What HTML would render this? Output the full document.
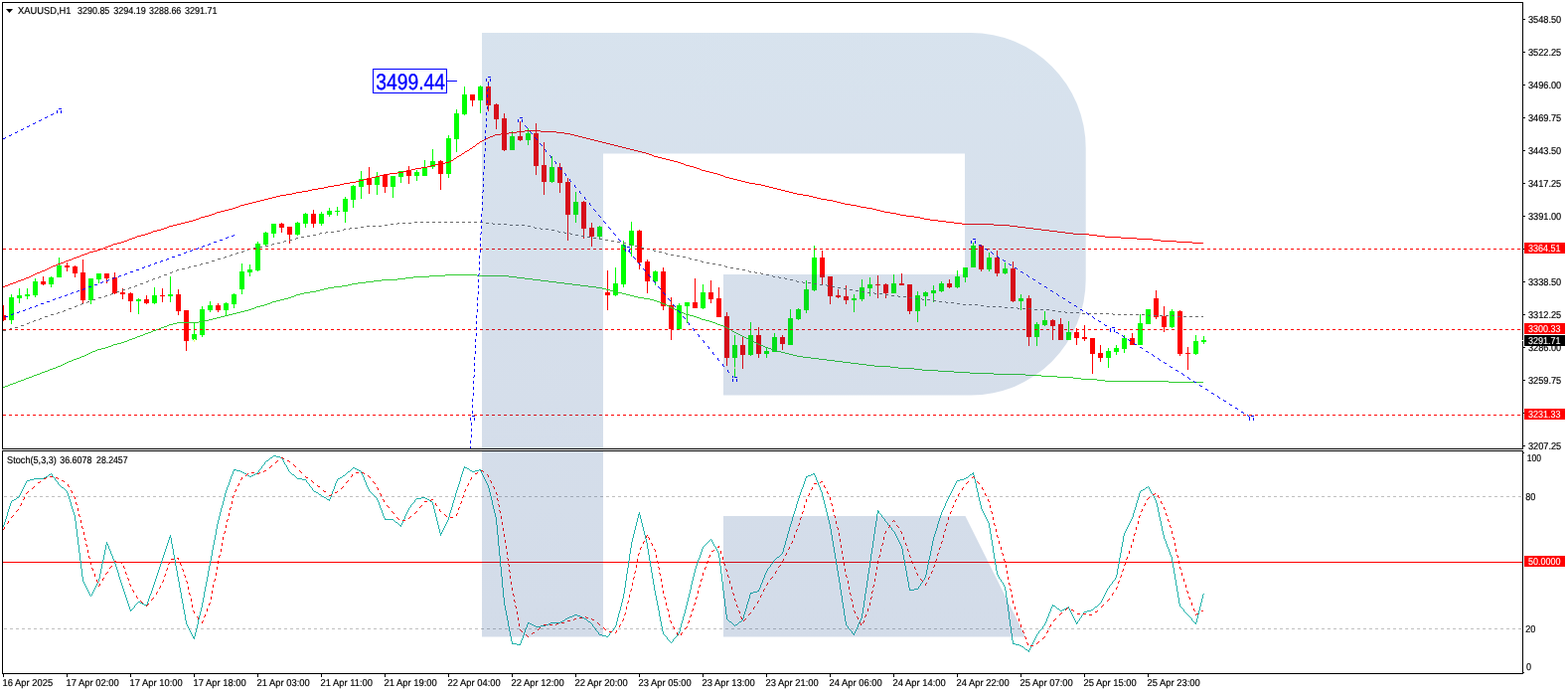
<!DOCTYPE html>
<html><head><meta charset="utf-8"><title>XAUUSD H1</title>
<style>
html,body{margin:0;padding:0;background:#fff;}
body{width:1578px;height:698px;overflow:hidden;}
svg{display:block;font-family:"Liberation Sans",sans-serif;}
text{white-space:pre;text-rendering:geometricPrecision;}
</style></head><body>
<svg width="1578" height="698" viewBox="0 0 1578 698">
<rect width="1578" height="698" fill="#fff"/>
<g shape-rendering="crispEdges">
<rect x="3" y="307" width="1" height="16" fill="#ff0000"/>
<rect x="3" y="317" width="3" height="5" fill="#ff0000"/>
<rect x="11" y="296" width="1" height="30" fill="#00ff00"/>
<rect x="9" y="299" width="5" height="23" fill="#00ff00"/>
<rect x="19" y="290" width="1" height="15" fill="#00ff00"/>
<rect x="17" y="297" width="5" height="3" fill="#00ff00"/>
<rect x="27" y="290" width="1" height="11" fill="#00ff00"/>
<rect x="25" y="296" width="5" height="2" fill="#00ff00"/>
<rect x="35" y="280" width="1" height="19" fill="#00ff00"/>
<rect x="33" y="283" width="5" height="14" fill="#00ff00"/>
<rect x="43" y="278" width="1" height="9" fill="#ff0000"/>
<rect x="41" y="283" width="5" height="3" fill="#ff0000"/>
<rect x="51" y="278" width="1" height="11" fill="#00ff00"/>
<rect x="49" y="279" width="5" height="7" fill="#00ff00"/>
<rect x="59" y="259" width="1" height="20" fill="#00ff00"/>
<rect x="57" y="267" width="5" height="12" fill="#00ff00"/>
<rect x="67" y="264" width="1" height="9" fill="#ff0000"/>
<rect x="65" y="267" width="5" height="2" fill="#ff0000"/>
<rect x="75" y="267" width="1" height="12" fill="#ff0000"/>
<rect x="73" y="268" width="5" height="7" fill="#ff0000"/>
<rect x="83" y="261" width="1" height="44" fill="#ff0000"/>
<rect x="81" y="274" width="5" height="28" fill="#ff0000"/>
<rect x="91" y="280" width="1" height="26" fill="#00ff00"/>
<rect x="89" y="280" width="5" height="22" fill="#00ff00"/>
<rect x="99" y="275" width="1" height="10" fill="#00ff00"/>
<rect x="97" y="275" width="5" height="6" fill="#00ff00"/>
<rect x="107" y="275" width="1" height="10" fill="#ff0000"/>
<rect x="105" y="275" width="5" height="5" fill="#ff0000"/>
<rect x="115" y="274" width="1" height="22" fill="#ff0000"/>
<rect x="113" y="279" width="5" height="16" fill="#ff0000"/>
<rect x="123" y="290" width="1" height="11" fill="#ff0000"/>
<rect x="121" y="294" width="5" height="2" fill="#ff0000"/>
<rect x="131" y="294" width="1" height="20" fill="#ff0000"/>
<rect x="129" y="295" width="5" height="8" fill="#ff0000"/>
<rect x="139" y="300" width="1" height="16" fill="#00ff00"/>
<rect x="137" y="301" width="5" height="2" fill="#00ff00"/>
<rect x="147" y="297" width="1" height="9" fill="#ff0000"/>
<rect x="145" y="301" width="5" height="4" fill="#ff0000"/>
<rect x="155" y="289" width="1" height="17" fill="#00ff00"/>
<rect x="153" y="297" width="5" height="8" fill="#00ff00"/>
<rect x="163" y="290" width="1" height="14" fill="#ff0000"/>
<rect x="161" y="297" width="5" height="1" fill="#ff0000"/>
<rect x="171" y="278" width="1" height="26" fill="#00ff00"/>
<rect x="169" y="296" width="5" height="2" fill="#00ff00"/>
<rect x="179" y="291" width="1" height="26" fill="#ff0000"/>
<rect x="177" y="296" width="5" height="17" fill="#ff0000"/>
<rect x="187" y="312" width="1" height="41" fill="#ff0000"/>
<rect x="185" y="312" width="5" height="31" fill="#ff0000"/>
<rect x="195" y="325" width="1" height="19" fill="#00ff00"/>
<rect x="193" y="336" width="5" height="6" fill="#00ff00"/>
<rect x="203" y="308" width="1" height="31" fill="#00ff00"/>
<rect x="201" y="311" width="5" height="26" fill="#00ff00"/>
<rect x="211" y="303" width="1" height="11" fill="#00ff00"/>
<rect x="209" y="307" width="5" height="5" fill="#00ff00"/>
<rect x="219" y="305" width="1" height="9" fill="#ff0000"/>
<rect x="217" y="307" width="5" height="5" fill="#ff0000"/>
<rect x="227" y="304" width="1" height="14" fill="#00ff00"/>
<rect x="225" y="305" width="5" height="7" fill="#00ff00"/>
<rect x="235" y="295" width="1" height="15" fill="#00ff00"/>
<rect x="233" y="296" width="5" height="10" fill="#00ff00"/>
<rect x="243" y="265" width="1" height="31" fill="#00ff00"/>
<rect x="241" y="273" width="5" height="18" fill="#00ff00"/>
<rect x="251" y="266" width="1" height="12" fill="#00ff00"/>
<rect x="249" y="271" width="5" height="3" fill="#00ff00"/>
<rect x="259" y="243" width="1" height="30" fill="#00ff00"/>
<rect x="257" y="245" width="5" height="27" fill="#00ff00"/>
<rect x="267" y="233" width="1" height="15" fill="#00ff00"/>
<rect x="265" y="234" width="5" height="12" fill="#00ff00"/>
<rect x="275" y="225" width="1" height="14" fill="#00ff00"/>
<rect x="273" y="225" width="5" height="10" fill="#00ff00"/>
<rect x="283" y="224" width="1" height="10" fill="#ff0000"/>
<rect x="281" y="225" width="5" height="4" fill="#ff0000"/>
<rect x="291" y="228" width="1" height="17" fill="#ff0000"/>
<rect x="289" y="228" width="5" height="8" fill="#ff0000"/>
<rect x="299" y="223" width="1" height="14" fill="#00ff00"/>
<rect x="297" y="224" width="5" height="12" fill="#00ff00"/>
<rect x="307" y="214" width="1" height="15" fill="#00ff00"/>
<rect x="305" y="215" width="5" height="10" fill="#00ff00"/>
<rect x="315" y="211" width="1" height="18" fill="#ff0000"/>
<rect x="313" y="215" width="5" height="10" fill="#ff0000"/>
<rect x="323" y="213" width="1" height="14" fill="#00ff00"/>
<rect x="321" y="215" width="5" height="10" fill="#00ff00"/>
<rect x="331" y="209" width="1" height="9" fill="#00ff00"/>
<rect x="329" y="212" width="5" height="4" fill="#00ff00"/>
<rect x="339" y="208" width="1" height="9" fill="#00ff00"/>
<rect x="337" y="212" width="5" height="1" fill="#00ff00"/>
<rect x="347" y="198" width="1" height="26" fill="#00ff00"/>
<rect x="345" y="200" width="5" height="13" fill="#00ff00"/>
<rect x="355" y="186" width="1" height="23" fill="#00ff00"/>
<rect x="353" y="187" width="5" height="14" fill="#00ff00"/>
<rect x="363" y="172" width="1" height="28" fill="#00ff00"/>
<rect x="361" y="180" width="5" height="8" fill="#00ff00"/>
<rect x="371" y="168" width="1" height="27" fill="#ff0000"/>
<rect x="369" y="179" width="5" height="7" fill="#ff0000"/>
<rect x="379" y="173" width="1" height="23" fill="#00ff00"/>
<rect x="377" y="178" width="5" height="8" fill="#00ff00"/>
<rect x="387" y="175" width="1" height="19" fill="#ff0000"/>
<rect x="385" y="176" width="5" height="12" fill="#ff0000"/>
<rect x="395" y="177" width="1" height="22" fill="#00ff00"/>
<rect x="393" y="177" width="5" height="11" fill="#00ff00"/>
<rect x="403" y="172" width="1" height="12" fill="#00ff00"/>
<rect x="401" y="172" width="5" height="6" fill="#00ff00"/>
<rect x="411" y="167" width="1" height="18" fill="#ff0000"/>
<rect x="409" y="171" width="5" height="6" fill="#ff0000"/>
<rect x="419" y="171" width="1" height="11" fill="#00ff00"/>
<rect x="417" y="173" width="5" height="4" fill="#00ff00"/>
<rect x="427" y="161" width="1" height="16" fill="#00ff00"/>
<rect x="425" y="168" width="5" height="9" fill="#00ff00"/>
<rect x="435" y="150" width="1" height="20" fill="#00ff00"/>
<rect x="433" y="162" width="5" height="6" fill="#00ff00"/>
<rect x="443" y="161" width="1" height="30" fill="#ff0000"/>
<rect x="441" y="162" width="5" height="13" fill="#ff0000"/>
<rect x="451" y="136" width="1" height="43" fill="#00ff00"/>
<rect x="449" y="139" width="5" height="36" fill="#00ff00"/>
<rect x="459" y="110" width="1" height="43" fill="#00ff00"/>
<rect x="457" y="114" width="5" height="26" fill="#00ff00"/>
<rect x="467" y="87" width="1" height="29" fill="#00ff00"/>
<rect x="465" y="95" width="5" height="20" fill="#00ff00"/>
<rect x="475" y="95" width="1" height="12" fill="#ff0000"/>
<rect x="473" y="95" width="5" height="6" fill="#ff0000"/>
<rect x="483" y="86" width="1" height="28" fill="#00ff00"/>
<rect x="481" y="87" width="5" height="14" fill="#00ff00"/>
<rect x="491" y="82" width="1" height="30" fill="#ff0000"/>
<rect x="489" y="87" width="5" height="19" fill="#ff0000"/>
<rect x="499" y="104" width="1" height="26" fill="#ff0000"/>
<rect x="497" y="105" width="5" height="15" fill="#ff0000"/>
<rect x="507" y="114" width="1" height="38" fill="#ff0000"/>
<rect x="505" y="119" width="5" height="32" fill="#ff0000"/>
<rect x="515" y="132" width="1" height="19" fill="#00ff00"/>
<rect x="513" y="137" width="5" height="14" fill="#00ff00"/>
<rect x="523" y="122" width="1" height="20" fill="#ff0000"/>
<rect x="521" y="137" width="5" height="4" fill="#ff0000"/>
<rect x="531" y="129" width="1" height="17" fill="#00ff00"/>
<rect x="529" y="134" width="5" height="7" fill="#00ff00"/>
<rect x="539" y="124" width="1" height="52" fill="#ff0000"/>
<rect x="537" y="134" width="5" height="33" fill="#ff0000"/>
<rect x="547" y="143" width="1" height="53" fill="#ff0000"/>
<rect x="545" y="166" width="5" height="17" fill="#ff0000"/>
<rect x="555" y="157" width="1" height="27" fill="#00ff00"/>
<rect x="553" y="168" width="5" height="15" fill="#00ff00"/>
<rect x="563" y="164" width="1" height="30" fill="#ff0000"/>
<rect x="561" y="168" width="5" height="16" fill="#ff0000"/>
<rect x="571" y="179" width="1" height="63" fill="#ff0000"/>
<rect x="569" y="183" width="5" height="33" fill="#ff0000"/>
<rect x="579" y="193" width="1" height="31" fill="#00ff00"/>
<rect x="577" y="203" width="5" height="13" fill="#00ff00"/>
<rect x="587" y="202" width="1" height="38" fill="#ff0000"/>
<rect x="585" y="203" width="5" height="27" fill="#ff0000"/>
<rect x="595" y="224" width="1" height="24" fill="#ff0000"/>
<rect x="593" y="229" width="5" height="9" fill="#ff0000"/>
<rect x="603" y="227" width="1" height="14" fill="#00ff00"/>
<rect x="601" y="228" width="5" height="10" fill="#00ff00"/>
<rect x="611" y="272" width="1" height="40" fill="#ff0000"/>
<rect x="609" y="294" width="5" height="3" fill="#ff0000"/>
<rect x="619" y="269" width="1" height="29" fill="#00ff00"/>
<rect x="617" y="285" width="5" height="12" fill="#00ff00"/>
<rect x="627" y="242" width="1" height="47" fill="#00ff00"/>
<rect x="625" y="246" width="5" height="40" fill="#00ff00"/>
<rect x="635" y="223" width="1" height="35" fill="#00ff00"/>
<rect x="633" y="232" width="5" height="15" fill="#00ff00"/>
<rect x="643" y="231" width="1" height="40" fill="#ff0000"/>
<rect x="641" y="232" width="5" height="32" fill="#ff0000"/>
<rect x="651" y="261" width="1" height="34" fill="#ff0000"/>
<rect x="649" y="263" width="5" height="20" fill="#ff0000"/>
<rect x="659" y="272" width="1" height="15" fill="#00ff00"/>
<rect x="657" y="273" width="5" height="10" fill="#00ff00"/>
<rect x="667" y="269" width="1" height="43" fill="#ff0000"/>
<rect x="665" y="273" width="5" height="35" fill="#ff0000"/>
<rect x="675" y="299" width="1" height="43" fill="#ff0000"/>
<rect x="673" y="307" width="5" height="24" fill="#ff0000"/>
<rect x="683" y="305" width="1" height="26" fill="#00ff00"/>
<rect x="681" y="307" width="5" height="24" fill="#00ff00"/>
<rect x="691" y="304" width="1" height="21" fill="#00ff00"/>
<rect x="689" y="304" width="5" height="4" fill="#00ff00"/>
<rect x="699" y="280" width="1" height="30" fill="#ff0000"/>
<rect x="697" y="304" width="5" height="6" fill="#ff0000"/>
<rect x="707" y="286" width="1" height="25" fill="#00ff00"/>
<rect x="705" y="294" width="5" height="16" fill="#00ff00"/>
<rect x="715" y="282" width="1" height="23" fill="#ff0000"/>
<rect x="713" y="294" width="5" height="7" fill="#ff0000"/>
<rect x="723" y="289" width="1" height="30" fill="#ff0000"/>
<rect x="721" y="300" width="5" height="19" fill="#ff0000"/>
<rect x="731" y="314" width="1" height="54" fill="#ff0000"/>
<rect x="729" y="318" width="5" height="42" fill="#ff0000"/>
<rect x="739" y="337" width="1" height="42" fill="#00ff00"/>
<rect x="737" y="347" width="5" height="13" fill="#00ff00"/>
<rect x="747" y="338" width="1" height="33" fill="#ff0000"/>
<rect x="745" y="347" width="5" height="10" fill="#ff0000"/>
<rect x="755" y="324" width="1" height="34" fill="#00ff00"/>
<rect x="753" y="337" width="5" height="20" fill="#00ff00"/>
<rect x="763" y="329" width="1" height="31" fill="#ff0000"/>
<rect x="761" y="337" width="5" height="19" fill="#ff0000"/>
<rect x="771" y="350" width="1" height="10" fill="#00ff00"/>
<rect x="769" y="353" width="5" height="3" fill="#00ff00"/>
<rect x="779" y="335" width="1" height="19" fill="#00ff00"/>
<rect x="777" y="339" width="5" height="15" fill="#00ff00"/>
<rect x="787" y="337" width="1" height="15" fill="#ff0000"/>
<rect x="785" y="339" width="5" height="7" fill="#ff0000"/>
<rect x="795" y="311" width="1" height="36" fill="#00ff00"/>
<rect x="793" y="320" width="5" height="27" fill="#00ff00"/>
<rect x="803" y="310" width="1" height="12" fill="#00ff00"/>
<rect x="801" y="311" width="5" height="10" fill="#00ff00"/>
<rect x="811" y="282" width="1" height="33" fill="#00ff00"/>
<rect x="809" y="291" width="5" height="21" fill="#00ff00"/>
<rect x="819" y="247" width="1" height="46" fill="#00ff00"/>
<rect x="817" y="259" width="5" height="33" fill="#00ff00"/>
<rect x="827" y="252" width="1" height="35" fill="#ff0000"/>
<rect x="825" y="259" width="5" height="20" fill="#ff0000"/>
<rect x="835" y="278" width="1" height="28" fill="#ff0000"/>
<rect x="833" y="278" width="5" height="20" fill="#ff0000"/>
<rect x="843" y="291" width="1" height="9" fill="#ff0000"/>
<rect x="841" y="297" width="5" height="2" fill="#ff0000"/>
<rect x="851" y="287" width="1" height="19" fill="#ff0000"/>
<rect x="849" y="298" width="5" height="4" fill="#ff0000"/>
<rect x="859" y="296" width="1" height="18" fill="#00ff00"/>
<rect x="857" y="300" width="5" height="2" fill="#00ff00"/>
<rect x="867" y="281" width="1" height="22" fill="#00ff00"/>
<rect x="865" y="289" width="5" height="12" fill="#00ff00"/>
<rect x="875" y="279" width="1" height="19" fill="#00ff00"/>
<rect x="873" y="286" width="5" height="4" fill="#00ff00"/>
<rect x="883" y="277" width="1" height="23" fill="#ff0000"/>
<rect x="881" y="286" width="5" height="1" fill="#ff0000"/>
<rect x="891" y="285" width="1" height="15" fill="#ff0000"/>
<rect x="889" y="286" width="5" height="9" fill="#ff0000"/>
<rect x="899" y="276" width="1" height="19" fill="#00ff00"/>
<rect x="897" y="285" width="5" height="10" fill="#00ff00"/>
<rect x="907" y="275" width="1" height="12" fill="#ff0000"/>
<rect x="905" y="285" width="5" height="2" fill="#ff0000"/>
<rect x="915" y="286" width="1" height="30" fill="#ff0000"/>
<rect x="913" y="286" width="5" height="27" fill="#ff0000"/>
<rect x="923" y="293" width="1" height="31" fill="#00ff00"/>
<rect x="921" y="297" width="5" height="16" fill="#00ff00"/>
<rect x="931" y="293" width="1" height="15" fill="#00ff00"/>
<rect x="929" y="294" width="5" height="4" fill="#00ff00"/>
<rect x="939" y="287" width="1" height="17" fill="#00ff00"/>
<rect x="937" y="292" width="5" height="3" fill="#00ff00"/>
<rect x="947" y="283" width="1" height="11" fill="#00ff00"/>
<rect x="945" y="285" width="5" height="8" fill="#00ff00"/>
<rect x="955" y="281" width="1" height="9" fill="#ff0000"/>
<rect x="953" y="285" width="5" height="4" fill="#ff0000"/>
<rect x="963" y="272" width="1" height="18" fill="#00ff00"/>
<rect x="961" y="278" width="5" height="11" fill="#00ff00"/>
<rect x="971" y="269" width="1" height="15" fill="#00ff00"/>
<rect x="969" y="269" width="5" height="10" fill="#00ff00"/>
<rect x="979" y="244" width="1" height="25" fill="#00ff00"/>
<rect x="977" y="247" width="5" height="22" fill="#00ff00"/>
<rect x="987" y="246" width="1" height="27" fill="#ff0000"/>
<rect x="985" y="247" width="5" height="24" fill="#ff0000"/>
<rect x="995" y="254" width="1" height="19" fill="#00ff00"/>
<rect x="993" y="259" width="5" height="12" fill="#00ff00"/>
<rect x="1003" y="252" width="1" height="26" fill="#ff0000"/>
<rect x="1001" y="259" width="5" height="16" fill="#ff0000"/>
<rect x="1011" y="264" width="1" height="12" fill="#00ff00"/>
<rect x="1009" y="270" width="5" height="5" fill="#00ff00"/>
<rect x="1019" y="263" width="1" height="41" fill="#ff0000"/>
<rect x="1017" y="270" width="5" height="33" fill="#ff0000"/>
<rect x="1027" y="296" width="1" height="16" fill="#00ff00"/>
<rect x="1025" y="300" width="5" height="3" fill="#00ff00"/>
<rect x="1035" y="297" width="1" height="51" fill="#ff0000"/>
<rect x="1033" y="300" width="5" height="39" fill="#ff0000"/>
<rect x="1043" y="324" width="1" height="24" fill="#00ff00"/>
<rect x="1041" y="326" width="5" height="13" fill="#00ff00"/>
<rect x="1051" y="313" width="1" height="15" fill="#00ff00"/>
<rect x="1049" y="322" width="5" height="5" fill="#00ff00"/>
<rect x="1059" y="321" width="1" height="21" fill="#ff0000"/>
<rect x="1057" y="322" width="5" height="6" fill="#ff0000"/>
<rect x="1067" y="320" width="1" height="22" fill="#ff0000"/>
<rect x="1065" y="326" width="5" height="16" fill="#ff0000"/>
<rect x="1075" y="323" width="1" height="19" fill="#00ff00"/>
<rect x="1073" y="334" width="5" height="8" fill="#00ff00"/>
<rect x="1083" y="330" width="1" height="17" fill="#ff0000"/>
<rect x="1081" y="334" width="5" height="6" fill="#ff0000"/>
<rect x="1091" y="327" width="1" height="16" fill="#ff0000"/>
<rect x="1089" y="339" width="5" height="2" fill="#ff0000"/>
<rect x="1099" y="340" width="1" height="36" fill="#ff0000"/>
<rect x="1097" y="340" width="5" height="16" fill="#ff0000"/>
<rect x="1107" y="347" width="1" height="17" fill="#ff0000"/>
<rect x="1105" y="355" width="5" height="5" fill="#ff0000"/>
<rect x="1115" y="350" width="1" height="20" fill="#00ff00"/>
<rect x="1113" y="353" width="5" height="7" fill="#00ff00"/>
<rect x="1123" y="347" width="1" height="10" fill="#00ff00"/>
<rect x="1121" y="350" width="5" height="4" fill="#00ff00"/>
<rect x="1131" y="337" width="1" height="18" fill="#00ff00"/>
<rect x="1129" y="340" width="5" height="11" fill="#00ff00"/>
<rect x="1139" y="335" width="1" height="12" fill="#ff0000"/>
<rect x="1137" y="340" width="5" height="7" fill="#ff0000"/>
<rect x="1147" y="316" width="1" height="31" fill="#00ff00"/>
<rect x="1145" y="325" width="5" height="22" fill="#00ff00"/>
<rect x="1155" y="311" width="1" height="15" fill="#00ff00"/>
<rect x="1153" y="311" width="5" height="15" fill="#00ff00"/>
<rect x="1163" y="292" width="1" height="29" fill="#ff0000"/>
<rect x="1161" y="300" width="5" height="19" fill="#ff0000"/>
<rect x="1171" y="308" width="1" height="26" fill="#ff0000"/>
<rect x="1169" y="318" width="5" height="11" fill="#ff0000"/>
<rect x="1179" y="311" width="1" height="19" fill="#00ff00"/>
<rect x="1177" y="313" width="5" height="16" fill="#00ff00"/>
<rect x="1187" y="312" width="1" height="46" fill="#ff0000"/>
<rect x="1185" y="313" width="5" height="43" fill="#ff0000"/>
<rect x="1195" y="349" width="1" height="23" fill="#ff0000"/>
<rect x="1193" y="355" width="5" height="1" fill="#ff0000"/>
<rect x="1203" y="337" width="1" height="20" fill="#00ff00"/>
<rect x="1201" y="343" width="5" height="13" fill="#00ff00"/>
<rect x="1211" y="338" width="1" height="8" fill="#00ff00"/>
<rect x="1209" y="342" width="5" height="2" fill="#00ff00"/>
</g>
<g shape-rendering="crispEdges">
<rect x="193" y="341" width="1" height="1" fill="#f4ffb0"/>
<rect x="195" y="341" width="1" height="1" fill="#c8ffff"/>
<rect x="196" y="341" width="1" height="1" fill="#e8ff90"/>
<rect x="193" y="342" width="1" height="1" fill="#c0ffff"/>
<rect x="194" y="342" width="1" height="1" fill="#ffffff"/>
<rect x="195" y="342" width="1" height="1" fill="#e0ff60"/>
<rect x="195" y="343" width="1" height="1" fill="#e8ff80"/>
<rect x="739" y="369" width="1" height="1" fill="#c8f080"/>
<rect x="739" y="370" width="1" height="1" fill="#d8f090"/>
</g>
<g shape-rendering="crispEdges">
<path d="M448 276h32v1h-32zM432 277h16v1h-16zM480 277h32v1h-32zM416 278h16v1h-16zM512 278h8v1h-8zM408 279h8v1h-8zM520 279h8v1h-8zM400 280h8v1h-8zM528 280h8v1h-8zM384 281h16v1h-16zM536 281h8v1h-8zM376 282h8v1h-8zM544 282h8v1h-8zM368 283h8v1h-8zM552 283h8v1h-8zM360 284h8v1h-8zM560 284h8v1h-8zM354 285h6v1h-6zM568 285h8v1h-8zM350 286h4v1h-4zM576 286h8v1h-8zM344 287h6v1h-6zM584 287h8v1h-8zM336 288h8v1h-8zM592 288h8v1h-8zM330 289h6v1h-6zM600 289h6v1h-6zM326 290h4v1h-4zM606 290h4v1h-4zM322 291h4v1h-4zM610 291h4v1h-4zM318 292h4v1h-4zM614 292h4v1h-4zM312 293h6v1h-6zM618 293h4v1h-4zM306 294h6v1h-6zM622 294h4v1h-4zM302 295h4v1h-4zM626 295h4v1h-4zM298 296h4v1h-4zM630 296h4v1h-4zM296 297h2v1h-2zM634 297h4v1h-4zM293 298h3v1h-3zM638 298h4v1h-4zM290 299h3v1h-3zM642 299h6v1h-6zM286 300h4v1h-4zM648 300h6v1h-6zM282 301h4v1h-4zM654 301h4v1h-4zM278 302h4v1h-4zM658 302h3v1h-3zM274 303h4v1h-4zM661 303h3v1h-3zM272 304h2v1h-2zM664 304h2v1h-2zM269 305h3v1h-3zM666 305h3v1h-3zM266 306h3v1h-3zM669 306h2v1h-2zM262 307h4v1h-4zM671 307h2v1h-2zM258 308h4v1h-4zM673 308h2v1h-2zM256 309h2v1h-2zM675 309h2v1h-2zM253 310h3v1h-3zM677 310h2v1h-2zM250 311h3v1h-3zM679 311h2v1h-2zM246 312h4v1h-4zM681 312h2v1h-2zM242 313h4v1h-4zM683 313h2v1h-2zM238 314h4v1h-4zM685 314h3v1h-3zM234 315h4v1h-4zM688 315h2v1h-2zM230 316h4v1h-4zM690 316h4v1h-4zM226 317h4v1h-4zM694 317h4v1h-4zM222 318h4v1h-4zM698 318h3v1h-3zM218 319h4v1h-4zM701 319h3v1h-3zM214 320h4v1h-4zM704 320h2v1h-2zM210 321h4v1h-4zM706 321h4v1h-4zM206 322h4v1h-4zM710 322h4v1h-4zM200 323h6v1h-6zM714 323h3v1h-3zM178 324h22v1h-22zM717 324h3v1h-3zM174 325h4v1h-4zM720 325h2v1h-2zM170 326h4v1h-4zM722 326h3v1h-3zM168 327h2v1h-2zM725 327h3v1h-3zM165 328h3v1h-3zM728 328h2v1h-2zM162 329h3v1h-3zM730 329h2v1h-2zM160 330h2v1h-2zM732 330h2v1h-2zM157 331h3v1h-3zM734 331h2v1h-2zM154 332h3v1h-3zM152 333h2v1h-2zM737 333h2v1h-2zM149 334h3v1h-3zM739 334h2v1h-2zM146 335h3v1h-3zM741 335h2v1h-2zM144 336h2v1h-2zM743 336h2v1h-2zM141 337h3v1h-3zM745 337h2v1h-2zM138 338h3v1h-3zM747 338h2v1h-2zM136 339h2v1h-2zM749 339h2v1h-2zM133 340h3v1h-3zM751 340h2v1h-2zM130 341h3v1h-3zM753 341h2v1h-2zM128 342h2v1h-2zM755 342h2v1h-2zM125 343h3v1h-3zM757 343h2v1h-2zM122 344h3v1h-3zM759 344h2v1h-2zM118 345h4v1h-4zM761 345h2v1h-2zM114 346h4v1h-4zM763 346h2v1h-2zM112 347h2v1h-2zM765 347h3v1h-3zM109 348h3v1h-3zM768 348h2v1h-2zM106 349h3v1h-3zM770 349h3v1h-3zM102 350h4v1h-4zM773 350h3v1h-3zM98 351h4v1h-4zM776 351h2v1h-2zM96 352h2v1h-2zM778 352h4v1h-4zM93 353h3v1h-3zM782 353h4v1h-4zM91 354h2v1h-2zM786 354h4v1h-4zM89 355h2v1h-2zM790 355h4v1h-4zM87 356h2v1h-2zM794 356h4v1h-4zM85 357h2v1h-2zM798 357h4v1h-4zM82 358h3v1h-3zM802 358h6v1h-6zM80 359h2v1h-2zM808 359h8v1h-8zM77 360h3v1h-3zM816 360h8v1h-8zM74 361h3v1h-3zM824 361h8v1h-8zM72 362h2v1h-2zM832 362h8v1h-8zM69 363h3v1h-3zM840 363h8v1h-8zM67 364h2v1h-2zM848 364h8v1h-8zM65 365h2v1h-2zM856 365h8v1h-8zM63 366h2v1h-2zM864 366h8v1h-8zM61 367h2v1h-2zM872 367h8v1h-8zM58 368h3v1h-3zM880 368h16v1h-16zM56 369h2v1h-2zM896 369h8v1h-8zM53 370h3v1h-3zM904 370h16v1h-16zM50 371h3v1h-3zM920 371h8v1h-8zM48 372h2v1h-2zM928 372h16v1h-16zM45 373h3v1h-3zM944 373h16v1h-16zM42 374h3v1h-3zM960 374h16v1h-16zM40 375h2v1h-2zM976 375h24v1h-24zM37 376h3v1h-3zM1000 376h32v1h-32zM34 377h3v1h-3zM1032 377h16v1h-16zM32 378h2v1h-2zM1048 378h16v1h-16zM29 379h3v1h-3zM1064 379h16v1h-16zM26 380h3v1h-3zM1080 380h8v1h-8zM24 381h2v1h-2zM1088 381h16v1h-16zM21 382h3v1h-3zM1104 382h8v1h-8zM18 383h3v1h-3zM1112 383h64v1h-64zM16 384h2v1h-2zM1176 384h35v1h-35zM13 385h3v1h-3zM10 386h3v1h-3zM8 387h2v1h-2zM5 388h3v1h-3zM3 389h2v1h-2zM736 332v1h1v-1z" fill="#32cd32"/>
<path d="M417 223h3v1h-3zM423 223h3v1h-3zM429 223h3v1h-3zM435 223h3v1h-3zM441 223h3v1h-3zM447 223h3v1h-3zM453 223h3v1h-3zM459 223h3v1h-3zM465 223h3v1h-3zM471 223h3v1h-3zM477 223h3v1h-3zM483 223h3v1h-3zM400 224h2v1h-2zM405 224h3v1h-3zM411 224h3v1h-3zM489 224h3v1h-3zM393 225h3v1h-3zM496 225h2v1h-2zM501 225h3v1h-3zM507 225h3v1h-3zM387 226h3v1h-3zM513 226h3v1h-3zM519 226h3v1h-3zM525 226h3v1h-3zM369 227h3v1h-3zM375 227h3v1h-3zM381 227h3v1h-3zM531 227h3v1h-3zM363 228h3v1h-3zM352 229h2v1h-2zM357 229h3v1h-3zM538 229h2v1h-2zM346 230h2v1h-2zM544 230h2v1h-2zM549 230h3v1h-3zM555 231h3v1h-3zM339 232h3v1h-3zM328 233h2v1h-2zM333 233h3v1h-3zM562 233h2v1h-2zM322 234h2v1h-2zM568 234h2v1h-2zM574 235h2v1h-2zM315 236h3v1h-3zM579 236h3v1h-3zM309 237h3v1h-3zM585 237h3v1h-3zM303 238h3v1h-3zM591 238h3v1h-3zM298 239h2v1h-2zM597 239h3v1h-3zM603 240h3v1h-3zM291 241h3v1h-3zM609 241h3v1h-3zM286 242h2v1h-2zM615 242h3v1h-3zM621 243h3v1h-3zM279 244h3v1h-3zM627 244h3v1h-3zM274 245h2v1h-2zM634 246h2v1h-2zM267 247h3v1h-3zM639 247h3v1h-3zM261 248h3v1h-3zM255 249h3v1h-3zM646 249h2v1h-2zM250 250h2v1h-2zM651 250h3v1h-3zM658 252h2v1h-2zM243 253h2v1h-2zM663 253h3v1h-3zM238 254h2v1h-2zM670 255h2v1h-2zM232 256h2v1h-2zM675 256h3v1h-3zM681 257h3v1h-3zM226 258h2v1h-2zM687 258h3v1h-3zM219 260h3v1h-3zM694 260h2v1h-2zM699 261h3v1h-3zM213 262h3v1h-3zM706 263h2v1h-2zM207 264h3v1h-3zM711 264h3v1h-3zM202 265h2v1h-2zM717 265h3v1h-3zM723 266h3v1h-3zM195 267h3v1h-3zM190 268h2v1h-2zM730 268h2v1h-2zM735 269h3v1h-3zM183 270h3v1h-3zM741 270h3v1h-3zM178 271h2v1h-2zM747 271h3v1h-3zM754 273h2v1h-2zM171 274h2v1h-2zM760 274h2v1h-2zM766 275h2v1h-2zM165 276h3v1h-3zM771 276h3v1h-3zM160 278h2v1h-2zM778 278h2v1h-2zM784 279h2v1h-2zM154 280h2v1h-2zM790 280h2v1h-2zM795 281h3v1h-3zM147 283h2v1h-2zM802 283h2v1h-2zM808 284h2v1h-2zM813 284h3v1h-3zM141 285h3v1h-3zM819 285h3v1h-3zM825 286h3v1h-3zM136 287h2v1h-2zM832 287h2v1h-2zM838 288h2v1h-2zM130 289h2v1h-2zM843 289h3v1h-3zM849 290h3v1h-3zM123 291h3v1h-3zM855 291h3v1h-3zM861 292h3v1h-3zM117 293h3v1h-3zM867 293h3v1h-3zM873 294h3v1h-3zM112 295h2v1h-2zM880 295h2v1h-2zM885 295h3v1h-3zM891 296h3v1h-3zM106 297h2v1h-2zM897 297h3v1h-3zM904 298h2v1h-2zM909 298h3v1h-3zM99 299h3v1h-3zM915 299h3v1h-3zM921 300h3v1h-3zM93 301h3v1h-3zM928 301h2v1h-2zM933 301h3v1h-3zM939 302h3v1h-3zM88 303h2v1h-2zM945 303h3v1h-3zM952 304h2v1h-2zM957 304h3v1h-3zM82 305h2v1h-2zM963 305h3v1h-3zM969 306h3v1h-3zM975 306h3v1h-3zM981 306h3v1h-3zM987 307h3v1h-3zM75 308h2v1h-2zM993 308h3v1h-3zM999 308h3v1h-3zM1005 308h3v1h-3zM1011 309h3v1h-3zM1017 309h3v1h-3zM69 310h3v1h-3zM1024 310h2v1h-2zM1029 310h3v1h-3zM1035 310h3v1h-3zM1041 311h3v1h-3zM1047 311h3v1h-3zM1053 311h3v1h-3zM64 312h2v1h-2zM1059 312h3v1h-3zM1065 313h3v1h-3zM58 314h2v1h-2zM1072 314h2v1h-2zM1077 314h3v1h-3zM1083 314h3v1h-3zM1089 315h3v1h-3zM1095 315h3v1h-3zM1101 315h3v1h-3zM1107 315h3v1h-3zM1113 315h3v1h-3zM51 316h3v1h-3zM1120 316h2v1h-2zM1125 316h3v1h-3zM1131 316h3v1h-3zM1137 316h3v1h-3zM1143 316h3v1h-3zM1149 316h3v1h-3zM1155 317h3v1h-3zM1161 317h3v1h-3zM1167 317h3v1h-3zM1173 317h3v1h-3zM1179 317h3v1h-3zM45 318h3v1h-3zM1185 318h3v1h-3zM1191 318h3v1h-3zM1197 318h3v1h-3zM1203 318h3v1h-3zM1209 318h2v1h-2zM40 320h2v1h-2zM34 322h2v1h-2zM27 325h2v1h-2zM21 327h3v1h-3zM15 329h3v1h-3zM10 330h2v1h-2zM3 332h3v1h-3zM9 331v1h1v-1zM29 324v1h1v-1zM33 323v1h1v-1zM39 321v1h1v-1zM57 315v1h1v-1zM63 313v1h1v-1zM77 307v1h1v-1zM81 306v1h1v-1zM87 304v1h1v-1zM105 298v1h1v-1zM111 296v1h1v-1zM129 290v1h1v-1zM135 288v1h1v-1zM149 282v1h1v-1zM153 281v1h1v-1zM159 279v1h1v-1zM173 273v1h1v-1zM177 272v1h1v-1zM189 269v1h1v-1zM201 266v1h1v-1zM225 259v1h1v-1zM231 257v1h1v-1zM237 255v1h1v-1zM245 252v1h1v-1zM249 251v1h1v-1zM273 246v1h1v-1zM285 243v1h1v-1zM297 240v1h1v-1zM321 235v1h1v-1zM327 234v1h1v-1zM345 231v1h1v-1zM351 230v1h1v-1zM399 225v1h1v-1zM495 224v1h1v-1zM537 228v1h1v-1zM543 229v1h1v-1zM561 232v1h1v-1zM567 233v1h1v-1zM573 234v1h1v-1zM633 245v1h1v-1zM645 248v1h1v-1zM657 251v1h1v-1zM669 254v1h1v-1zM693 259v1h1v-1zM705 262v1h1v-1zM729 267v1h1v-1zM753 272v1h1v-1zM759 273v1h1v-1zM765 274v1h1v-1zM777 277v1h1v-1zM783 278v1h1v-1zM789 279v1h1v-1zM801 282v1h1v-1zM807 283v1h1v-1zM831 286v1h1v-1zM837 287v1h1v-1zM879 294v1h1v-1zM903 297v1h1v-1zM927 300v1h1v-1zM951 303v1h1v-1zM1023 309v1h1v-1zM1071 313v1h1v-1zM1119 315v1h1v-1z" fill="#696969"/>
<path d="M528 131h16v1h-16zM520 132h8v1h-8zM544 132h16v1h-16zM512 133h8v1h-8zM560 133h8v1h-8zM504 134h8v1h-8zM568 134h6v1h-6zM498 135h6v1h-6zM574 135h4v1h-4zM496 136h2v1h-2zM578 136h4v1h-4zM493 137h3v1h-3zM582 137h4v1h-4zM491 138h2v1h-2zM586 138h4v1h-4zM489 139h2v1h-2zM590 139h4v1h-4zM487 140h2v1h-2zM594 140h4v1h-4zM485 141h2v1h-2zM598 141h4v1h-4zM483 142h2v1h-2zM602 142h4v1h-4zM606 143h4v1h-4zM480 144h2v1h-2zM610 144h4v1h-4zM614 145h4v1h-4zM618 146h4v1h-4zM476 147h2v1h-2zM622 147h4v1h-4zM626 148h4v1h-4zM473 149h2v1h-2zM630 149h4v1h-4zM634 150h4v1h-4zM470 151h2v1h-2zM638 151h4v1h-4zM468 152h2v1h-2zM642 152h4v1h-4zM646 153h4v1h-4zM465 154h2v1h-2zM650 154h3v1h-3zM653 155h3v1h-3zM462 156h2v1h-2zM656 156h2v1h-2zM460 157h2v1h-2zM658 157h4v1h-4zM662 158h4v1h-4zM457 159h2v1h-2zM666 159h4v1h-4zM670 160h4v1h-4zM454 161h2v1h-2zM674 161h4v1h-4zM452 162h2v1h-2zM678 162h4v1h-4zM448 163h4v1h-4zM682 163h3v1h-3zM442 164h6v1h-6zM685 164h3v1h-3zM438 165h4v1h-4zM688 165h2v1h-2zM434 166h4v1h-4zM690 166h4v1h-4zM430 167h4v1h-4zM694 167h4v1h-4zM424 168h6v1h-6zM698 168h3v1h-3zM418 169h6v1h-6zM701 169h3v1h-3zM414 170h4v1h-4zM704 170h2v1h-2zM410 171h4v1h-4zM706 171h4v1h-4zM406 172h4v1h-4zM710 172h4v1h-4zM400 173h6v1h-6zM714 173h4v1h-4zM392 174h8v1h-8zM718 174h4v1h-4zM386 175h6v1h-6zM722 175h3v1h-3zM382 176h4v1h-4zM725 176h3v1h-3zM378 177h4v1h-4zM728 177h2v1h-2zM374 178h4v1h-4zM730 178h4v1h-4zM370 179h4v1h-4zM734 179h4v1h-4zM366 180h4v1h-4zM738 180h4v1h-4zM362 181h4v1h-4zM742 181h4v1h-4zM358 182h4v1h-4zM746 182h4v1h-4zM352 183h6v1h-6zM750 183h4v1h-4zM346 184h6v1h-6zM754 184h6v1h-6zM342 185h4v1h-4zM760 185h6v1h-6zM336 186h6v1h-6zM766 186h4v1h-4zM330 187h6v1h-6zM770 187h4v1h-4zM326 188h4v1h-4zM774 188h4v1h-4zM320 189h6v1h-6zM778 189h4v1h-4zM314 190h6v1h-6zM782 190h4v1h-4zM310 191h4v1h-4zM786 191h4v1h-4zM304 192h6v1h-6zM790 192h4v1h-4zM298 193h6v1h-6zM794 193h4v1h-4zM294 194h4v1h-4zM798 194h4v1h-4zM288 195h6v1h-6zM802 195h6v1h-6zM282 196h6v1h-6zM808 196h6v1h-6zM278 197h4v1h-4zM814 197h4v1h-4zM274 198h4v1h-4zM818 198h4v1h-4zM270 199h4v1h-4zM822 199h4v1h-4zM266 200h4v1h-4zM826 200h6v1h-6zM262 201h4v1h-4zM832 201h6v1h-6zM258 202h4v1h-4zM838 202h4v1h-4zM254 203h4v1h-4zM842 203h4v1h-4zM250 204h4v1h-4zM846 204h4v1h-4zM246 205h4v1h-4zM850 205h6v1h-6zM242 206h4v1h-4zM856 206h6v1h-6zM240 207h2v1h-2zM862 207h4v1h-4zM237 208h3v1h-3zM866 208h6v1h-6zM234 209h3v1h-3zM872 209h6v1h-6zM230 210h4v1h-4zM878 210h4v1h-4zM226 211h4v1h-4zM882 211h4v1h-4zM222 212h4v1h-4zM886 212h4v1h-4zM218 213h4v1h-4zM890 213h6v1h-6zM216 214h2v1h-2zM896 214h6v1h-6zM213 215h3v1h-3zM902 215h4v1h-4zM210 216h3v1h-3zM906 216h6v1h-6zM206 217h4v1h-4zM912 217h8v1h-8zM202 218h4v1h-4zM920 218h6v1h-6zM200 219h2v1h-2zM926 219h4v1h-4zM197 220h3v1h-3zM930 220h6v1h-6zM194 221h3v1h-3zM936 221h8v1h-8zM190 222h4v1h-4zM944 222h8v1h-8zM186 223h4v1h-4zM952 223h8v1h-8zM182 224h4v1h-4zM960 224h8v1h-8zM178 225h4v1h-4zM968 225h32v1h-32zM174 226h4v1h-4zM1000 226h16v1h-16zM170 227h4v1h-4zM1016 227h8v1h-8zM168 228h2v1h-2zM1024 228h8v1h-8zM165 229h3v1h-3zM1032 229h8v1h-8zM162 230h3v1h-3zM1040 230h8v1h-8zM158 231h4v1h-4zM1048 231h8v1h-8zM154 232h4v1h-4zM1056 232h8v1h-8zM152 233h2v1h-2zM1064 233h8v1h-8zM149 234h3v1h-3zM1072 234h8v1h-8zM146 235h3v1h-3zM1080 235h16v1h-16zM142 236h4v1h-4zM1096 236h8v1h-8zM138 237h4v1h-4zM1104 237h8v1h-8zM136 238h2v1h-2zM1112 238h16v1h-16zM133 239h3v1h-3zM1128 239h16v1h-16zM130 240h3v1h-3zM1144 240h16v1h-16zM128 241h2v1h-2zM1160 241h8v1h-8zM125 242h3v1h-3zM1168 242h16v1h-16zM122 243h3v1h-3zM1184 243h16v1h-16zM118 244h4v1h-4zM1200 244h11v1h-11zM114 245h4v1h-4zM112 246h2v1h-2zM109 247h3v1h-3zM106 248h3v1h-3zM104 249h2v1h-2zM101 250h3v1h-3zM98 251h3v1h-3zM94 252h4v1h-4zM90 253h4v1h-4zM88 254h2v1h-2zM85 255h3v1h-3zM82 256h3v1h-3zM80 257h2v1h-2zM77 258h3v1h-3zM74 259h3v1h-3zM72 260h2v1h-2zM69 261h3v1h-3zM66 262h3v1h-3zM64 263h2v1h-2zM61 264h3v1h-3zM58 265h3v1h-3zM56 266h2v1h-2zM53 267h3v1h-3zM51 268h2v1h-2zM49 269h2v1h-2zM47 270h2v1h-2zM45 271h2v1h-2zM42 272h3v1h-3zM40 273h2v1h-2zM37 274h3v1h-3zM35 275h2v1h-2zM33 276h2v1h-2zM31 277h2v1h-2zM29 278h2v1h-2zM26 279h3v1h-3zM24 280h2v1h-2zM21 281h3v1h-3zM18 282h3v1h-3zM16 283h2v1h-2zM13 284h3v1h-3zM10 285h3v1h-3zM8 286h2v1h-2zM5 287h3v1h-3zM3 288h2v1h-2zM456 160v1h1v-1zM459 158v1h1v-1zM464 155v1h1v-1zM467 153v1h1v-1zM472 150v1h1v-1zM475 148v1h1v-1zM478 146v1h1v-1zM479 145v1h1v-1zM482 143v1h1v-1z" fill="#ff0000"/>
</g>
<g shape-rendering="crispEdges">
<path d="M3 250h3v1h-3zM9 250h3v1h-3zM15 250h3v1h-3zM21 250h3v1h-3zM27 250h3v1h-3zM33 250h3v1h-3zM39 250h3v1h-3zM45 250h3v1h-3zM51 250h3v1h-3zM57 250h3v1h-3zM63 250h3v1h-3zM69 250h3v1h-3zM75 250h3v1h-3zM81 250h3v1h-3zM87 250h3v1h-3zM93 250h3v1h-3zM99 250h3v1h-3zM105 250h3v1h-3zM111 250h3v1h-3zM117 250h3v1h-3zM123 250h3v1h-3zM129 250h3v1h-3zM135 250h3v1h-3zM141 250h3v1h-3zM147 250h3v1h-3zM153 250h3v1h-3zM159 250h3v1h-3zM165 250h3v1h-3zM171 250h3v1h-3zM177 250h3v1h-3zM183 250h3v1h-3zM189 250h3v1h-3zM195 250h3v1h-3zM201 250h3v1h-3zM207 250h3v1h-3zM213 250h3v1h-3zM219 250h3v1h-3zM225 250h3v1h-3zM231 250h3v1h-3zM237 250h3v1h-3zM243 250h3v1h-3zM249 250h3v1h-3zM255 250h3v1h-3zM261 250h3v1h-3zM267 250h3v1h-3zM273 250h3v1h-3zM279 250h3v1h-3zM285 250h3v1h-3zM291 250h3v1h-3zM297 250h3v1h-3zM303 250h3v1h-3zM309 250h3v1h-3zM315 250h3v1h-3zM321 250h3v1h-3zM327 250h3v1h-3zM333 250h3v1h-3zM339 250h3v1h-3zM345 250h3v1h-3zM351 250h3v1h-3zM357 250h3v1h-3zM363 250h3v1h-3zM369 250h3v1h-3zM375 250h3v1h-3zM381 250h3v1h-3zM387 250h3v1h-3zM393 250h3v1h-3zM399 250h3v1h-3zM405 250h3v1h-3zM411 250h3v1h-3zM417 250h3v1h-3zM423 250h3v1h-3zM429 250h3v1h-3zM435 250h3v1h-3zM441 250h3v1h-3zM447 250h3v1h-3zM453 250h3v1h-3zM459 250h3v1h-3zM465 250h3v1h-3zM471 250h3v1h-3zM477 250h3v1h-3zM483 250h3v1h-3zM489 250h3v1h-3zM495 250h3v1h-3zM501 250h3v1h-3zM507 250h3v1h-3zM513 250h3v1h-3zM519 250h3v1h-3zM525 250h3v1h-3zM531 250h3v1h-3zM537 250h3v1h-3zM543 250h3v1h-3zM549 250h3v1h-3zM555 250h3v1h-3zM561 250h3v1h-3zM567 250h3v1h-3zM573 250h3v1h-3zM579 250h3v1h-3zM585 250h3v1h-3zM591 250h3v1h-3zM597 250h3v1h-3zM603 250h3v1h-3zM609 250h3v1h-3zM615 250h3v1h-3zM621 250h3v1h-3zM627 250h3v1h-3zM633 250h3v1h-3zM639 250h3v1h-3zM645 250h3v1h-3zM651 250h3v1h-3zM657 250h3v1h-3zM663 250h3v1h-3zM669 250h3v1h-3zM675 250h3v1h-3zM681 250h3v1h-3zM687 250h3v1h-3zM693 250h3v1h-3zM699 250h3v1h-3zM705 250h3v1h-3zM711 250h3v1h-3zM717 250h3v1h-3zM723 250h3v1h-3zM729 250h3v1h-3zM735 250h3v1h-3zM741 250h3v1h-3zM747 250h3v1h-3zM753 250h3v1h-3zM759 250h3v1h-3zM765 250h3v1h-3zM771 250h3v1h-3zM777 250h3v1h-3zM783 250h3v1h-3zM789 250h3v1h-3zM795 250h3v1h-3zM801 250h3v1h-3zM807 250h3v1h-3zM813 250h3v1h-3zM819 250h3v1h-3zM825 250h3v1h-3zM831 250h3v1h-3zM837 250h3v1h-3zM843 250h3v1h-3zM849 250h3v1h-3zM855 250h3v1h-3zM861 250h3v1h-3zM867 250h3v1h-3zM873 250h3v1h-3zM879 250h3v1h-3zM885 250h3v1h-3zM891 250h3v1h-3zM897 250h3v1h-3zM903 250h3v1h-3zM909 250h3v1h-3zM915 250h3v1h-3zM921 250h3v1h-3zM927 250h3v1h-3zM933 250h3v1h-3zM939 250h3v1h-3zM945 250h3v1h-3zM951 250h3v1h-3zM957 250h3v1h-3zM963 250h3v1h-3zM969 250h3v1h-3zM975 250h3v1h-3zM981 250h3v1h-3zM987 250h3v1h-3zM993 250h3v1h-3zM999 250h3v1h-3zM1005 250h3v1h-3zM1011 250h3v1h-3zM1017 250h3v1h-3zM1023 250h3v1h-3zM1029 250h3v1h-3zM1035 250h3v1h-3zM1041 250h3v1h-3zM1047 250h3v1h-3zM1053 250h3v1h-3zM1059 250h3v1h-3zM1065 250h3v1h-3zM1071 250h3v1h-3zM1077 250h3v1h-3zM1083 250h3v1h-3zM1089 250h3v1h-3zM1095 250h3v1h-3zM1101 250h3v1h-3zM1107 250h3v1h-3zM1113 250h3v1h-3zM1119 250h3v1h-3zM1125 250h3v1h-3zM1131 250h3v1h-3zM1137 250h3v1h-3zM1143 250h3v1h-3zM1149 250h3v1h-3zM1155 250h3v1h-3zM1161 250h3v1h-3zM1167 250h3v1h-3zM1173 250h3v1h-3zM1179 250h3v1h-3zM1185 250h3v1h-3zM1191 250h3v1h-3zM1197 250h3v1h-3zM1203 250h3v1h-3zM1209 250h3v1h-3zM1215 250h3v1h-3zM1221 250h3v1h-3zM1227 250h3v1h-3zM1233 250h3v1h-3zM1239 250h3v1h-3zM1245 250h3v1h-3zM1251 250h3v1h-3zM1257 250h3v1h-3zM1263 250h3v1h-3zM1269 250h3v1h-3zM1275 250h3v1h-3zM1281 250h3v1h-3zM1287 250h3v1h-3zM1293 250h3v1h-3zM1299 250h3v1h-3zM1305 250h3v1h-3zM1311 250h3v1h-3zM1317 250h3v1h-3zM1323 250h3v1h-3zM1329 250h3v1h-3zM1335 250h3v1h-3zM1341 250h3v1h-3zM1347 250h3v1h-3zM1353 250h3v1h-3zM1359 250h3v1h-3zM1365 250h3v1h-3zM1371 250h3v1h-3zM1377 250h3v1h-3zM1383 250h3v1h-3zM1389 250h3v1h-3zM1395 250h3v1h-3zM1401 250h3v1h-3zM1407 250h3v1h-3zM1413 250h3v1h-3zM1419 250h3v1h-3zM1425 250h3v1h-3zM1431 250h3v1h-3zM1437 250h3v1h-3zM1443 250h3v1h-3zM1449 250h3v1h-3zM1455 250h3v1h-3zM1461 250h3v1h-3zM1467 250h3v1h-3zM1473 250h3v1h-3zM1479 250h3v1h-3zM1485 250h3v1h-3zM1491 250h3v1h-3zM1497 250h3v1h-3zM1503 250h3v1h-3zM1509 250h3v1h-3zM1515 250h3v1h-3zM1521 250h3v1h-3zM1527 250h3v1h-3z" fill="#ff0000"/>
<path d="M3 331h3v1h-3zM9 331h3v1h-3zM15 331h3v1h-3zM21 331h3v1h-3zM27 331h3v1h-3zM33 331h3v1h-3zM39 331h3v1h-3zM45 331h3v1h-3zM51 331h3v1h-3zM57 331h3v1h-3zM63 331h3v1h-3zM69 331h3v1h-3zM75 331h3v1h-3zM81 331h3v1h-3zM87 331h3v1h-3zM93 331h3v1h-3zM99 331h3v1h-3zM105 331h3v1h-3zM111 331h3v1h-3zM117 331h3v1h-3zM123 331h3v1h-3zM129 331h3v1h-3zM135 331h3v1h-3zM141 331h3v1h-3zM147 331h3v1h-3zM153 331h3v1h-3zM159 331h3v1h-3zM165 331h3v1h-3zM171 331h3v1h-3zM177 331h3v1h-3zM183 331h3v1h-3zM189 331h3v1h-3zM195 331h3v1h-3zM201 331h3v1h-3zM207 331h3v1h-3zM213 331h3v1h-3zM219 331h3v1h-3zM225 331h3v1h-3zM231 331h3v1h-3zM237 331h3v1h-3zM243 331h3v1h-3zM249 331h3v1h-3zM255 331h3v1h-3zM261 331h3v1h-3zM267 331h3v1h-3zM273 331h3v1h-3zM279 331h3v1h-3zM285 331h3v1h-3zM291 331h3v1h-3zM297 331h3v1h-3zM303 331h3v1h-3zM309 331h3v1h-3zM315 331h3v1h-3zM321 331h3v1h-3zM327 331h3v1h-3zM333 331h3v1h-3zM339 331h3v1h-3zM345 331h3v1h-3zM351 331h3v1h-3zM357 331h3v1h-3zM363 331h3v1h-3zM369 331h3v1h-3zM375 331h3v1h-3zM381 331h3v1h-3zM387 331h3v1h-3zM393 331h3v1h-3zM399 331h3v1h-3zM405 331h3v1h-3zM411 331h3v1h-3zM417 331h3v1h-3zM423 331h3v1h-3zM429 331h3v1h-3zM435 331h3v1h-3zM441 331h3v1h-3zM447 331h3v1h-3zM453 331h3v1h-3zM459 331h3v1h-3zM465 331h3v1h-3zM471 331h3v1h-3zM477 331h3v1h-3zM483 331h3v1h-3zM489 331h3v1h-3zM495 331h3v1h-3zM501 331h3v1h-3zM507 331h3v1h-3zM513 331h3v1h-3zM519 331h3v1h-3zM525 331h3v1h-3zM531 331h3v1h-3zM537 331h3v1h-3zM543 331h3v1h-3zM549 331h3v1h-3zM555 331h3v1h-3zM561 331h3v1h-3zM567 331h3v1h-3zM573 331h3v1h-3zM579 331h3v1h-3zM585 331h3v1h-3zM591 331h3v1h-3zM597 331h3v1h-3zM603 331h3v1h-3zM609 331h3v1h-3zM615 331h3v1h-3zM621 331h3v1h-3zM627 331h3v1h-3zM633 331h3v1h-3zM639 331h3v1h-3zM645 331h3v1h-3zM651 331h3v1h-3zM657 331h3v1h-3zM663 331h3v1h-3zM669 331h3v1h-3zM675 331h3v1h-3zM681 331h3v1h-3zM687 331h3v1h-3zM693 331h3v1h-3zM699 331h3v1h-3zM705 331h3v1h-3zM711 331h3v1h-3zM717 331h3v1h-3zM723 331h3v1h-3zM729 331h3v1h-3zM735 331h3v1h-3zM741 331h3v1h-3zM747 331h3v1h-3zM753 331h3v1h-3zM759 331h3v1h-3zM765 331h3v1h-3zM771 331h3v1h-3zM777 331h3v1h-3zM783 331h3v1h-3zM789 331h3v1h-3zM795 331h3v1h-3zM801 331h3v1h-3zM807 331h3v1h-3zM813 331h3v1h-3zM819 331h3v1h-3zM825 331h3v1h-3zM831 331h3v1h-3zM837 331h3v1h-3zM843 331h3v1h-3zM849 331h3v1h-3zM855 331h3v1h-3zM861 331h3v1h-3zM867 331h3v1h-3zM873 331h3v1h-3zM879 331h3v1h-3zM885 331h3v1h-3zM891 331h3v1h-3zM897 331h3v1h-3zM903 331h3v1h-3zM909 331h3v1h-3zM915 331h3v1h-3zM921 331h3v1h-3zM927 331h3v1h-3zM933 331h3v1h-3zM939 331h3v1h-3zM945 331h3v1h-3zM951 331h3v1h-3zM957 331h3v1h-3zM963 331h3v1h-3zM969 331h3v1h-3zM975 331h3v1h-3zM981 331h3v1h-3zM987 331h3v1h-3zM993 331h3v1h-3zM999 331h3v1h-3zM1005 331h3v1h-3zM1011 331h3v1h-3zM1017 331h3v1h-3zM1023 331h3v1h-3zM1029 331h3v1h-3zM1035 331h3v1h-3zM1041 331h3v1h-3zM1047 331h3v1h-3zM1053 331h3v1h-3zM1059 331h3v1h-3zM1065 331h3v1h-3zM1071 331h3v1h-3zM1077 331h3v1h-3zM1083 331h3v1h-3zM1089 331h3v1h-3zM1095 331h3v1h-3zM1101 331h3v1h-3zM1107 331h3v1h-3zM1113 331h3v1h-3zM1119 331h3v1h-3zM1125 331h3v1h-3zM1131 331h3v1h-3zM1137 331h3v1h-3zM1143 331h3v1h-3zM1149 331h3v1h-3zM1155 331h3v1h-3zM1161 331h3v1h-3zM1167 331h3v1h-3zM1173 331h3v1h-3zM1179 331h3v1h-3zM1185 331h3v1h-3zM1191 331h3v1h-3zM1197 331h3v1h-3zM1203 331h3v1h-3zM1209 331h3v1h-3zM1215 331h3v1h-3zM1221 331h3v1h-3zM1227 331h3v1h-3zM1233 331h3v1h-3zM1239 331h3v1h-3zM1245 331h3v1h-3zM1251 331h3v1h-3zM1257 331h3v1h-3zM1263 331h3v1h-3zM1269 331h3v1h-3zM1275 331h3v1h-3zM1281 331h3v1h-3zM1287 331h3v1h-3zM1293 331h3v1h-3zM1299 331h3v1h-3zM1305 331h3v1h-3zM1311 331h3v1h-3zM1317 331h3v1h-3zM1323 331h3v1h-3zM1329 331h3v1h-3zM1335 331h3v1h-3zM1341 331h3v1h-3zM1347 331h3v1h-3zM1353 331h3v1h-3zM1359 331h3v1h-3zM1365 331h3v1h-3zM1371 331h3v1h-3zM1377 331h3v1h-3zM1383 331h3v1h-3zM1389 331h3v1h-3zM1395 331h3v1h-3zM1401 331h3v1h-3zM1407 331h3v1h-3zM1413 331h3v1h-3zM1419 331h3v1h-3zM1425 331h3v1h-3zM1431 331h3v1h-3zM1437 331h3v1h-3zM1443 331h3v1h-3zM1449 331h3v1h-3zM1455 331h3v1h-3zM1461 331h3v1h-3zM1467 331h3v1h-3zM1473 331h3v1h-3zM1479 331h3v1h-3zM1485 331h3v1h-3zM1491 331h3v1h-3zM1497 331h3v1h-3zM1503 331h3v1h-3zM1509 331h3v1h-3zM1515 331h3v1h-3zM1521 331h3v1h-3zM1527 331h3v1h-3z" fill="#ff0000"/>
<path d="M3 417h3v1h-3zM9 417h3v1h-3zM15 417h3v1h-3zM21 417h3v1h-3zM27 417h3v1h-3zM33 417h3v1h-3zM39 417h3v1h-3zM45 417h3v1h-3zM51 417h3v1h-3zM57 417h3v1h-3zM63 417h3v1h-3zM69 417h3v1h-3zM75 417h3v1h-3zM81 417h3v1h-3zM87 417h3v1h-3zM93 417h3v1h-3zM99 417h3v1h-3zM105 417h3v1h-3zM111 417h3v1h-3zM117 417h3v1h-3zM123 417h3v1h-3zM129 417h3v1h-3zM135 417h3v1h-3zM141 417h3v1h-3zM147 417h3v1h-3zM153 417h3v1h-3zM159 417h3v1h-3zM165 417h3v1h-3zM171 417h3v1h-3zM177 417h3v1h-3zM183 417h3v1h-3zM189 417h3v1h-3zM195 417h3v1h-3zM201 417h3v1h-3zM207 417h3v1h-3zM213 417h3v1h-3zM219 417h3v1h-3zM225 417h3v1h-3zM231 417h3v1h-3zM237 417h3v1h-3zM243 417h3v1h-3zM249 417h3v1h-3zM255 417h3v1h-3zM261 417h3v1h-3zM267 417h3v1h-3zM273 417h3v1h-3zM279 417h3v1h-3zM285 417h3v1h-3zM291 417h3v1h-3zM297 417h3v1h-3zM303 417h3v1h-3zM309 417h3v1h-3zM315 417h3v1h-3zM321 417h3v1h-3zM327 417h3v1h-3zM333 417h3v1h-3zM339 417h3v1h-3zM345 417h3v1h-3zM351 417h3v1h-3zM357 417h3v1h-3zM363 417h3v1h-3zM369 417h3v1h-3zM375 417h3v1h-3zM381 417h3v1h-3zM387 417h3v1h-3zM393 417h3v1h-3zM399 417h3v1h-3zM405 417h3v1h-3zM411 417h3v1h-3zM417 417h3v1h-3zM423 417h3v1h-3zM429 417h3v1h-3zM435 417h3v1h-3zM441 417h3v1h-3zM447 417h3v1h-3zM453 417h3v1h-3zM459 417h3v1h-3zM465 417h3v1h-3zM471 417h3v1h-3zM477 417h3v1h-3zM483 417h3v1h-3zM489 417h3v1h-3zM495 417h3v1h-3zM501 417h3v1h-3zM507 417h3v1h-3zM513 417h3v1h-3zM519 417h3v1h-3zM525 417h3v1h-3zM531 417h3v1h-3zM537 417h3v1h-3zM543 417h3v1h-3zM549 417h3v1h-3zM555 417h3v1h-3zM561 417h3v1h-3zM567 417h3v1h-3zM573 417h3v1h-3zM579 417h3v1h-3zM585 417h3v1h-3zM591 417h3v1h-3zM597 417h3v1h-3zM603 417h3v1h-3zM609 417h3v1h-3zM615 417h3v1h-3zM621 417h3v1h-3zM627 417h3v1h-3zM633 417h3v1h-3zM639 417h3v1h-3zM645 417h3v1h-3zM651 417h3v1h-3zM657 417h3v1h-3zM663 417h3v1h-3zM669 417h3v1h-3zM675 417h3v1h-3zM681 417h3v1h-3zM687 417h3v1h-3zM693 417h3v1h-3zM699 417h3v1h-3zM705 417h3v1h-3zM711 417h3v1h-3zM717 417h3v1h-3zM723 417h3v1h-3zM729 417h3v1h-3zM735 417h3v1h-3zM741 417h3v1h-3zM747 417h3v1h-3zM753 417h3v1h-3zM759 417h3v1h-3zM765 417h3v1h-3zM771 417h3v1h-3zM777 417h3v1h-3zM783 417h3v1h-3zM789 417h3v1h-3zM795 417h3v1h-3zM801 417h3v1h-3zM807 417h3v1h-3zM813 417h3v1h-3zM819 417h3v1h-3zM825 417h3v1h-3zM831 417h3v1h-3zM837 417h3v1h-3zM843 417h3v1h-3zM849 417h3v1h-3zM855 417h3v1h-3zM861 417h3v1h-3zM867 417h3v1h-3zM873 417h3v1h-3zM879 417h3v1h-3zM885 417h3v1h-3zM891 417h3v1h-3zM897 417h3v1h-3zM903 417h3v1h-3zM909 417h3v1h-3zM915 417h3v1h-3zM921 417h3v1h-3zM927 417h3v1h-3zM933 417h3v1h-3zM939 417h3v1h-3zM945 417h3v1h-3zM951 417h3v1h-3zM957 417h3v1h-3zM963 417h3v1h-3zM969 417h3v1h-3zM975 417h3v1h-3zM981 417h3v1h-3zM987 417h3v1h-3zM993 417h3v1h-3zM999 417h3v1h-3zM1005 417h3v1h-3zM1011 417h3v1h-3zM1017 417h3v1h-3zM1023 417h3v1h-3zM1029 417h3v1h-3zM1035 417h3v1h-3zM1041 417h3v1h-3zM1047 417h3v1h-3zM1053 417h3v1h-3zM1059 417h3v1h-3zM1065 417h3v1h-3zM1071 417h3v1h-3zM1077 417h3v1h-3zM1083 417h3v1h-3zM1089 417h3v1h-3zM1095 417h3v1h-3zM1101 417h3v1h-3zM1107 417h3v1h-3zM1113 417h3v1h-3zM1119 417h3v1h-3zM1125 417h3v1h-3zM1131 417h3v1h-3zM1137 417h3v1h-3zM1143 417h3v1h-3zM1149 417h3v1h-3zM1155 417h3v1h-3zM1161 417h3v1h-3zM1167 417h3v1h-3zM1173 417h3v1h-3zM1179 417h3v1h-3zM1185 417h3v1h-3zM1191 417h3v1h-3zM1197 417h3v1h-3zM1203 417h3v1h-3zM1209 417h3v1h-3zM1215 417h3v1h-3zM1221 417h3v1h-3zM1227 417h3v1h-3zM1233 417h3v1h-3zM1239 417h3v1h-3zM1245 417h3v1h-3zM1251 417h3v1h-3zM1257 417h3v1h-3zM1263 417h3v1h-3zM1269 417h3v1h-3zM1275 417h3v1h-3zM1281 417h3v1h-3zM1287 417h3v1h-3zM1293 417h3v1h-3zM1299 417h3v1h-3zM1305 417h3v1h-3zM1311 417h3v1h-3zM1317 417h3v1h-3zM1323 417h3v1h-3zM1329 417h3v1h-3zM1335 417h3v1h-3zM1341 417h3v1h-3zM1347 417h3v1h-3zM1353 417h3v1h-3zM1359 417h3v1h-3zM1365 417h3v1h-3zM1371 417h3v1h-3zM1377 417h3v1h-3zM1383 417h3v1h-3zM1389 417h3v1h-3zM1395 417h3v1h-3zM1401 417h3v1h-3zM1407 417h3v1h-3zM1413 417h3v1h-3zM1419 417h3v1h-3zM1425 417h3v1h-3zM1431 417h3v1h-3zM1437 417h3v1h-3zM1443 417h3v1h-3zM1449 417h3v1h-3zM1455 417h3v1h-3zM1461 417h3v1h-3zM1467 417h3v1h-3zM1473 417h3v1h-3zM1479 417h3v1h-3zM1485 417h3v1h-3zM1491 417h3v1h-3zM1497 417h3v1h-3zM1503 417h3v1h-3zM1509 417h3v1h-3zM1515 417h3v1h-3zM1521 417h3v1h-3zM1527 417h3v1h-3z" fill="#ff0000"/>
<path d="M57 112h2v1h-2zM51 115h2v1h-2zM45 118h2v1h-2zM39 121h2v1h-2zM33 124h2v1h-2zM27 127h2v1h-2zM21 130h2v1h-2zM15 133h2v1h-2zM9 136h2v1h-2zM3 139h2v1h-2zM5 138v1h1v-1zM11 135v1h1v-1zM17 132v1h1v-1zM23 129v1h1v-1zM29 126v1h1v-1zM35 123v1h1v-1zM41 120v1h1v-1zM47 117v1h1v-1zM53 114v1h1v-1zM59 111v1h1v-1z" fill="#0000ff"/>
<rect x="58" y="110" width="3" height="3" fill="#fff"/>
<rect x="59" y="109" width="3" height="1" fill="#0000ff"/>
<rect x="57" y="111" width="1" height="3" fill="#0000ff"/>
<rect x="61" y="111" width="1" height="3" fill="#0000ff"/>
<path d="M233 237h2v1h-2zM227 239h2v1h-2zM221 241h3v1h-3zM215 243h3v1h-3zM210 245h2v1h-2zM204 247h2v1h-2zM197 250h2v1h-2zM191 252h2v1h-2zM185 254h2v1h-2zM179 256h3v1h-3zM173 258h3v1h-3zM168 260h2v1h-2zM162 262h2v1h-2zM156 264h2v1h-2zM149 267h2v1h-2zM143 269h2v1h-2zM137 271h3v1h-3zM131 273h3v1h-3zM126 275h2v1h-2zM120 277h2v1h-2zM114 279h2v1h-2zM107 282h2v1h-2zM101 284h2v1h-2zM95 286h3v1h-3zM89 288h3v1h-3zM84 290h2v1h-2zM78 292h2v1h-2zM72 294h2v1h-2zM65 297h2v1h-2zM59 299h2v1h-2zM53 301h2v1h-2zM47 303h3v1h-3zM41 305h3v1h-3zM36 307h2v1h-2zM30 309h2v1h-2zM23 312h2v1h-2zM17 314h2v1h-2zM11 316h2v1h-2zM5 318h3v1h-3zM13 315v1h1v-1zM19 313v1h1v-1zM25 311v1h1v-1zM29 310v1h1v-1zM35 308v1h1v-1zM55 300v1h1v-1zM61 298v1h1v-1zM67 296v1h1v-1zM71 295v1h1v-1zM77 293v1h1v-1zM83 291v1h1v-1zM103 283v1h1v-1zM109 281v1h1v-1zM113 280v1h1v-1zM119 278v1h1v-1zM125 276v1h1v-1zM145 268v1h1v-1zM151 266v1h1v-1zM155 265v1h1v-1zM161 263v1h1v-1zM167 261v1h1v-1zM187 253v1h1v-1zM193 251v1h1v-1zM199 249v1h1v-1zM203 248v1h1v-1zM209 246v1h1v-1zM229 238v1h1v-1zM235 236v1h1v-1z" fill="#0000ff"/>
<path d="M473 443v3h1v-3zM473 449v2h1v-2zM474 421v1h1v-1zM474 425v3h1v-3zM474 431v3h1v-3zM474 437v3h1v-3zM475 401v3h1v-3zM475 407v3h1v-3zM475 413v3h1v-3zM475 419v2h1v-2zM476 379v1h1v-1zM476 383v3h1v-3zM476 389v3h1v-3zM476 395v3h1v-3zM477 359v3h1v-3zM477 365v3h1v-3zM477 371v3h1v-3zM477 377v2h1v-2zM478 341v3h1v-3zM478 347v3h1v-3zM478 353v3h1v-3zM479 317v3h1v-3zM479 323v3h1v-3zM479 329v3h1v-3zM479 335v3h1v-3zM480 299v3h1v-3zM480 305v3h1v-3zM480 311v3h1v-3zM481 276v2h1v-2zM481 281v3h1v-3zM481 287v3h1v-3zM481 293v3h1v-3zM482 257v3h1v-3zM482 263v3h1v-3zM482 269v3h1v-3zM482 275v1h1v-1zM483 235v1h1v-1zM483 239v3h1v-3zM483 245v3h1v-3zM483 251v3h1v-3zM484 215v3h1v-3zM484 221v3h1v-3zM484 227v3h1v-3zM484 233v2h1v-2zM485 193v1h1v-1zM485 197v3h1v-3zM485 203v3h1v-3zM485 209v3h1v-3zM486 173v3h1v-3zM486 179v3h1v-3zM486 185v3h1v-3zM486 191v2h1v-2zM487 155v3h1v-3zM487 161v3h1v-3zM487 167v3h1v-3zM488 131v3h1v-3zM488 137v3h1v-3zM488 143v3h1v-3zM488 149v3h1v-3zM489 113v3h1v-3zM489 119v3h1v-3zM489 125v3h1v-3zM490 90v2h1v-2zM490 95v3h1v-3zM490 101v3h1v-3zM490 107v3h1v-3zM491 79v1h1v-1zM491 83v3h1v-3zM491 89v1h1v-1z" fill="#0000ff"/>
<rect x="490" y="78" width="3" height="3" fill="#fff"/>
<rect x="491" y="77" width="3" height="1" fill="#0000ff"/>
<rect x="489" y="79" width="1" height="3" fill="#0000ff"/>
<rect x="493" y="79" width="1" height="3" fill="#0000ff"/>
<rect x="474" y="419" width="3" height="3" fill="#fff"/>
<rect x="475" y="418" width="3" height="1" fill="#0000ff"/>
<rect x="473" y="420" width="1" height="3" fill="#0000ff"/>
<rect x="477" y="420" width="1" height="3" fill="#0000ff"/>
<path d="M523 120v1h1v-1zM524 121v1h1v-1zM525 122v1h1v-1zM528 126v1h1v-1zM529 127v1h1v-1zM530 128v1h1v-1zM533 132v1h1v-1zM534 133v1h1v-1zM535 134v1h1v-1zM538 138v1h1v-1zM539 139v1h1v-1zM540 140v1h1v-1zM543 144v1h1v-1zM544 145v1h1v-1zM545 146v1h1v-1zM548 150v1h1v-1zM549 151v2h1v-2zM553 156v1h1v-1zM554 157v2h1v-2zM558 162v1h1v-1zM559 163v2h1v-2zM563 168v1h1v-1zM564 169v2h1v-2zM568 174v1h1v-1zM569 175v2h1v-2zM573 180v2h1v-2zM574 182v1h1v-1zM578 186v2h1v-2zM579 188v1h1v-1zM583 192v2h1v-2zM584 194v1h1v-1zM588 198v2h1v-2zM589 200v1h1v-1zM593 204v2h1v-2zM594 206v1h1v-1zM597 210v1h1v-1zM598 211v1h1v-1zM599 212v1h1v-1zM602 216v1h1v-1zM603 217v1h1v-1zM604 218v1h1v-1zM607 222v1h1v-1zM608 223v1h1v-1zM609 224v1h1v-1zM612 228v1h1v-1zM613 229v1h1v-1zM614 230v1h1v-1zM617 234v1h1v-1zM618 235v1h1v-1zM619 236v1h1v-1zM622 240v1h1v-1zM623 241v1h1v-1zM624 242v1h1v-1zM627 246v1h1v-1zM628 247v1h1v-1zM629 248v1h1v-1zM632 252v1h1v-1zM633 253v1h1v-1zM634 254v1h1v-1zM637 258v1h1v-1zM638 259v1h1v-1zM639 260v1h1v-1zM642 264v1h1v-1zM643 265v1h1v-1zM644 266v1h1v-1zM647 270v1h1v-1zM648 271v1h1v-1zM649 272v1h1v-1zM652 276v1h1v-1zM653 277v1h1v-1zM654 278v1h1v-1zM657 282v1h1v-1zM658 283v1h1v-1zM659 284v1h1v-1zM662 288v1h1v-1zM663 289v1h1v-1zM664 290v1h1v-1zM667 294v1h1v-1zM668 295v1h1v-1zM669 296v1h1v-1zM672 300v1h1v-1zM673 301v1h1v-1zM674 302v1h1v-1zM677 306v1h1v-1zM678 307v1h1v-1zM679 308v1h1v-1zM682 312v1h1v-1zM683 313v1h1v-1zM684 314v1h1v-1zM687 318v1h1v-1zM688 319v1h1v-1zM689 320v1h1v-1zM692 324v1h1v-1zM693 325v2h1v-2zM697 330v1h1v-1zM698 331v2h1v-2zM702 336v1h1v-1zM703 337v2h1v-2zM707 342v1h1v-1zM708 343v2h1v-2zM712 348v1h1v-1zM713 349v2h1v-2zM717 354v2h1v-2zM718 356v1h1v-1zM722 360v2h1v-2zM723 362v1h1v-1zM727 366v2h1v-2zM728 368v1h1v-1zM732 372v2h1v-2zM733 374v1h1v-1zM737 378v2h1v-2zM738 380v1h1v-1z" fill="#0000ff"/>
<rect x="522" y="119" width="3" height="3" fill="#fff"/>
<rect x="523" y="118" width="3" height="1" fill="#0000ff"/>
<rect x="521" y="120" width="1" height="3" fill="#0000ff"/>
<rect x="525" y="120" width="1" height="3" fill="#0000ff"/>
<rect x="630" y="249" width="3" height="3" fill="#fff"/>
<rect x="631" y="248" width="3" height="1" fill="#0000ff"/>
<rect x="629" y="250" width="1" height="3" fill="#0000ff"/>
<rect x="633" y="250" width="1" height="3" fill="#0000ff"/>
<rect x="738" y="380" width="3" height="3" fill="#fff"/>
<rect x="739" y="379" width="3" height="1" fill="#0000ff"/>
<rect x="737" y="381" width="1" height="3" fill="#0000ff"/>
<rect x="741" y="381" width="1" height="3" fill="#0000ff"/>
<path d="M980 243h2v1h-2zM985 246h2v1h-2zM991 250h2v1h-2zM1010 262h2v1h-2zM1016 266h2v1h-2zM1021 269h2v1h-2zM1027 273h2v1h-2zM1040 281h2v1h-2zM1046 285h2v1h-2zM1051 288h2v1h-2zM1057 292h2v1h-2zM1070 300h2v1h-2zM1076 304h2v1h-2zM1081 307h2v1h-2zM1087 311h2v1h-2zM1106 323h2v1h-2zM1112 327h2v1h-2zM1117 330h2v1h-2zM1123 334h2v1h-2zM1136 342h2v1h-2zM1142 346h2v1h-2zM1147 349h2v1h-2zM1153 353h2v1h-2zM1172 365h2v1h-2zM1178 369h2v1h-2zM1183 372h2v1h-2zM1202 384h2v1h-2zM1208 388h2v1h-2zM1213 391h2v1h-2zM1219 395h2v1h-2zM1232 403h2v1h-2zM1238 407h2v1h-2zM1243 410h2v1h-2zM1249 414h2v1h-2zM979 242v1h1v-1zM987 247v1h1v-1zM993 251v1h1v-1zM997 253v1h1v-1zM998 254v1h1v-1zM999 255v1h1v-1zM1003 257v1h1v-1zM1004 258v1h1v-1zM1005 259v1h1v-1zM1009 261v1h1v-1zM1015 265v1h1v-1zM1023 270v1h1v-1zM1029 274v1h1v-1zM1033 276v1h1v-1zM1034 277v1h1v-1zM1035 278v1h1v-1zM1039 280v1h1v-1zM1045 284v1h1v-1zM1053 289v1h1v-1zM1059 293v1h1v-1zM1063 295v1h1v-1zM1064 296v1h1v-1zM1065 297v1h1v-1zM1069 299v1h1v-1zM1075 303v1h1v-1zM1083 308v1h1v-1zM1089 312v1h1v-1zM1093 314v1h1v-1zM1094 315v1h1v-1zM1095 316v1h1v-1zM1099 318v1h1v-1zM1100 319v1h1v-1zM1101 320v1h1v-1zM1105 322v1h1v-1zM1111 326v1h1v-1zM1119 331v1h1v-1zM1125 335v1h1v-1zM1129 337v1h1v-1zM1130 338v1h1v-1zM1131 339v1h1v-1zM1135 341v1h1v-1zM1141 345v1h1v-1zM1149 350v1h1v-1zM1155 354v1h1v-1zM1159 356v1h1v-1zM1160 357v1h1v-1zM1161 358v1h1v-1zM1165 360v1h1v-1zM1166 361v1h1v-1zM1167 362v1h1v-1zM1171 364v1h1v-1zM1177 368v1h1v-1zM1185 373v1h1v-1zM1189 375v1h1v-1zM1190 376v1h1v-1zM1191 377v1h1v-1zM1195 379v1h1v-1zM1196 380v1h1v-1zM1197 381v1h1v-1zM1201 383v1h1v-1zM1207 387v1h1v-1zM1215 392v1h1v-1zM1221 396v1h1v-1zM1225 398v1h1v-1zM1226 399v1h1v-1zM1227 400v1h1v-1zM1231 402v1h1v-1zM1237 406v1h1v-1zM1245 411v1h1v-1zM1251 415v1h1v-1zM1255 417v1h1v-1zM1256 418v1h1v-1zM1257 419v1h1v-1z" fill="#0000ff"/>
<rect x="978" y="241" width="3" height="3" fill="#fff"/>
<rect x="979" y="240" width="3" height="1" fill="#0000ff"/>
<rect x="977" y="242" width="1" height="3" fill="#0000ff"/>
<rect x="981" y="242" width="1" height="3" fill="#0000ff"/>
<rect x="1118" y="330" width="3" height="3" fill="#fff"/>
<rect x="1119" y="329" width="3" height="1" fill="#0000ff"/>
<rect x="1117" y="331" width="1" height="3" fill="#0000ff"/>
<rect x="1121" y="331" width="1" height="3" fill="#0000ff"/>
<rect x="1258" y="419" width="3" height="3" fill="#fff"/>
<rect x="1259" y="418" width="3" height="1" fill="#0000ff"/>
<rect x="1257" y="420" width="1" height="3" fill="#0000ff"/>
<rect x="1261" y="420" width="1" height="3" fill="#0000ff"/>
<rect x="375.5" y="69.5" width="74" height="24" fill="none" stroke="#0000ff"/>
<rect x="450" y="81" width="10" height="1" fill="#0000ff"/>
</g>
<text x="378.30" y="89.9" font-size="22.6" fill="#0000ff" stroke="#0000ff" stroke-width="0.4" textLength="69.60" lengthAdjust="spacingAndGlyphs">3499.44</text>
<g shape-rendering="crispEdges">
<path d="M4 499h3v1h-3zM10 499h3v1h-3zM16 499h3v1h-3zM22 499h3v1h-3zM28 499h3v1h-3zM34 499h3v1h-3zM40 499h3v1h-3zM46 499h3v1h-3zM52 499h3v1h-3zM58 499h3v1h-3zM64 499h3v1h-3zM70 499h3v1h-3zM76 499h3v1h-3zM82 499h3v1h-3zM88 499h3v1h-3zM94 499h3v1h-3zM100 499h3v1h-3zM106 499h3v1h-3zM112 499h3v1h-3zM118 499h3v1h-3zM124 499h3v1h-3zM130 499h3v1h-3zM136 499h3v1h-3zM142 499h3v1h-3zM148 499h3v1h-3zM154 499h3v1h-3zM160 499h3v1h-3zM166 499h3v1h-3zM172 499h3v1h-3zM178 499h3v1h-3zM184 499h3v1h-3zM190 499h3v1h-3zM196 499h3v1h-3zM202 499h3v1h-3zM208 499h3v1h-3zM214 499h3v1h-3zM220 499h3v1h-3zM226 499h3v1h-3zM232 499h3v1h-3zM238 499h3v1h-3zM244 499h3v1h-3zM250 499h3v1h-3zM256 499h3v1h-3zM262 499h3v1h-3zM268 499h3v1h-3zM274 499h3v1h-3zM280 499h3v1h-3zM286 499h3v1h-3zM292 499h3v1h-3zM298 499h3v1h-3zM304 499h3v1h-3zM310 499h3v1h-3zM316 499h3v1h-3zM322 499h3v1h-3zM328 499h3v1h-3zM334 499h3v1h-3zM340 499h3v1h-3zM346 499h3v1h-3zM352 499h3v1h-3zM358 499h3v1h-3zM364 499h3v1h-3zM370 499h3v1h-3zM376 499h3v1h-3zM382 499h3v1h-3zM388 499h3v1h-3zM394 499h3v1h-3zM400 499h3v1h-3zM406 499h3v1h-3zM412 499h3v1h-3zM418 499h3v1h-3zM424 499h3v1h-3zM430 499h3v1h-3zM436 499h3v1h-3zM442 499h3v1h-3zM448 499h3v1h-3zM454 499h3v1h-3zM460 499h3v1h-3zM466 499h3v1h-3zM472 499h3v1h-3zM478 499h3v1h-3zM484 499h3v1h-3zM490 499h3v1h-3zM496 499h3v1h-3zM502 499h3v1h-3zM508 499h3v1h-3zM514 499h3v1h-3zM520 499h3v1h-3zM526 499h3v1h-3zM532 499h3v1h-3zM538 499h3v1h-3zM544 499h3v1h-3zM550 499h3v1h-3zM556 499h3v1h-3zM562 499h3v1h-3zM568 499h3v1h-3zM574 499h3v1h-3zM580 499h3v1h-3zM586 499h3v1h-3zM592 499h3v1h-3zM598 499h3v1h-3zM604 499h3v1h-3zM610 499h3v1h-3zM616 499h3v1h-3zM622 499h3v1h-3zM628 499h3v1h-3zM634 499h3v1h-3zM640 499h3v1h-3zM646 499h3v1h-3zM652 499h3v1h-3zM658 499h3v1h-3zM664 499h3v1h-3zM670 499h3v1h-3zM676 499h3v1h-3zM682 499h3v1h-3zM688 499h3v1h-3zM694 499h3v1h-3zM700 499h3v1h-3zM706 499h3v1h-3zM712 499h3v1h-3zM718 499h3v1h-3zM724 499h3v1h-3zM730 499h3v1h-3zM736 499h3v1h-3zM742 499h3v1h-3zM748 499h3v1h-3zM754 499h3v1h-3zM760 499h3v1h-3zM766 499h3v1h-3zM772 499h3v1h-3zM778 499h3v1h-3zM784 499h3v1h-3zM790 499h3v1h-3zM796 499h3v1h-3zM802 499h3v1h-3zM808 499h3v1h-3zM814 499h3v1h-3zM820 499h3v1h-3zM826 499h3v1h-3zM832 499h3v1h-3zM838 499h3v1h-3zM844 499h3v1h-3zM850 499h3v1h-3zM856 499h3v1h-3zM862 499h3v1h-3zM868 499h3v1h-3zM874 499h3v1h-3zM880 499h3v1h-3zM886 499h3v1h-3zM892 499h3v1h-3zM898 499h3v1h-3zM904 499h3v1h-3zM910 499h3v1h-3zM916 499h3v1h-3zM922 499h3v1h-3zM928 499h3v1h-3zM934 499h3v1h-3zM940 499h3v1h-3zM946 499h3v1h-3zM952 499h3v1h-3zM958 499h3v1h-3zM964 499h3v1h-3zM970 499h3v1h-3zM976 499h3v1h-3zM982 499h3v1h-3zM988 499h3v1h-3zM994 499h3v1h-3zM1000 499h3v1h-3zM1006 499h3v1h-3zM1012 499h3v1h-3zM1018 499h3v1h-3zM1024 499h3v1h-3zM1030 499h3v1h-3zM1036 499h3v1h-3zM1042 499h3v1h-3zM1048 499h3v1h-3zM1054 499h3v1h-3zM1060 499h3v1h-3zM1066 499h3v1h-3zM1072 499h3v1h-3zM1078 499h3v1h-3zM1084 499h3v1h-3zM1090 499h3v1h-3zM1096 499h3v1h-3zM1102 499h3v1h-3zM1108 499h3v1h-3zM1114 499h3v1h-3zM1120 499h3v1h-3zM1126 499h3v1h-3zM1132 499h3v1h-3zM1138 499h3v1h-3zM1144 499h3v1h-3zM1150 499h3v1h-3zM1156 499h3v1h-3zM1162 499h3v1h-3zM1168 499h3v1h-3zM1174 499h3v1h-3zM1180 499h3v1h-3zM1186 499h3v1h-3zM1192 499h3v1h-3zM1198 499h3v1h-3zM1204 499h3v1h-3zM1210 499h3v1h-3zM1216 499h3v1h-3zM1222 499h3v1h-3zM1228 499h3v1h-3zM1234 499h3v1h-3zM1240 499h3v1h-3zM1246 499h3v1h-3zM1252 499h3v1h-3zM1258 499h3v1h-3zM1264 499h3v1h-3zM1270 499h3v1h-3zM1276 499h3v1h-3zM1282 499h3v1h-3zM1288 499h3v1h-3zM1294 499h3v1h-3zM1300 499h3v1h-3zM1306 499h3v1h-3zM1312 499h3v1h-3zM1318 499h3v1h-3zM1324 499h3v1h-3zM1330 499h3v1h-3zM1336 499h3v1h-3zM1342 499h3v1h-3zM1348 499h3v1h-3zM1354 499h3v1h-3zM1360 499h3v1h-3zM1366 499h3v1h-3zM1372 499h3v1h-3zM1378 499h3v1h-3zM1384 499h3v1h-3zM1390 499h3v1h-3zM1396 499h3v1h-3zM1402 499h3v1h-3zM1408 499h3v1h-3zM1414 499h3v1h-3zM1420 499h3v1h-3zM1426 499h3v1h-3zM1432 499h3v1h-3zM1438 499h3v1h-3zM1444 499h3v1h-3zM1450 499h3v1h-3zM1456 499h3v1h-3zM1462 499h3v1h-3zM1468 499h3v1h-3zM1474 499h3v1h-3zM1480 499h3v1h-3zM1486 499h3v1h-3zM1492 499h3v1h-3zM1498 499h3v1h-3zM1504 499h3v1h-3zM1510 499h3v1h-3zM1516 499h3v1h-3zM1522 499h3v1h-3zM1528 499h3v1h-3z" fill="#c0c0c0"/>
<path d="M4 632h3v1h-3zM10 632h3v1h-3zM16 632h3v1h-3zM22 632h3v1h-3zM28 632h3v1h-3zM34 632h3v1h-3zM40 632h3v1h-3zM46 632h3v1h-3zM52 632h3v1h-3zM58 632h3v1h-3zM64 632h3v1h-3zM70 632h3v1h-3zM76 632h3v1h-3zM82 632h3v1h-3zM88 632h3v1h-3zM94 632h3v1h-3zM100 632h3v1h-3zM106 632h3v1h-3zM112 632h3v1h-3zM118 632h3v1h-3zM124 632h3v1h-3zM130 632h3v1h-3zM136 632h3v1h-3zM142 632h3v1h-3zM148 632h3v1h-3zM154 632h3v1h-3zM160 632h3v1h-3zM166 632h3v1h-3zM172 632h3v1h-3zM178 632h3v1h-3zM184 632h3v1h-3zM190 632h3v1h-3zM196 632h3v1h-3zM202 632h3v1h-3zM208 632h3v1h-3zM214 632h3v1h-3zM220 632h3v1h-3zM226 632h3v1h-3zM232 632h3v1h-3zM238 632h3v1h-3zM244 632h3v1h-3zM250 632h3v1h-3zM256 632h3v1h-3zM262 632h3v1h-3zM268 632h3v1h-3zM274 632h3v1h-3zM280 632h3v1h-3zM286 632h3v1h-3zM292 632h3v1h-3zM298 632h3v1h-3zM304 632h3v1h-3zM310 632h3v1h-3zM316 632h3v1h-3zM322 632h3v1h-3zM328 632h3v1h-3zM334 632h3v1h-3zM340 632h3v1h-3zM346 632h3v1h-3zM352 632h3v1h-3zM358 632h3v1h-3zM364 632h3v1h-3zM370 632h3v1h-3zM376 632h3v1h-3zM382 632h3v1h-3zM388 632h3v1h-3zM394 632h3v1h-3zM400 632h3v1h-3zM406 632h3v1h-3zM412 632h3v1h-3zM418 632h3v1h-3zM424 632h3v1h-3zM430 632h3v1h-3zM436 632h3v1h-3zM442 632h3v1h-3zM448 632h3v1h-3zM454 632h3v1h-3zM460 632h3v1h-3zM466 632h3v1h-3zM472 632h3v1h-3zM478 632h3v1h-3zM484 632h3v1h-3zM490 632h3v1h-3zM496 632h3v1h-3zM502 632h3v1h-3zM508 632h3v1h-3zM514 632h3v1h-3zM520 632h3v1h-3zM526 632h3v1h-3zM532 632h3v1h-3zM538 632h3v1h-3zM544 632h3v1h-3zM550 632h3v1h-3zM556 632h3v1h-3zM562 632h3v1h-3zM568 632h3v1h-3zM574 632h3v1h-3zM580 632h3v1h-3zM586 632h3v1h-3zM592 632h3v1h-3zM598 632h3v1h-3zM604 632h3v1h-3zM610 632h3v1h-3zM616 632h3v1h-3zM622 632h3v1h-3zM628 632h3v1h-3zM634 632h3v1h-3zM640 632h3v1h-3zM646 632h3v1h-3zM652 632h3v1h-3zM658 632h3v1h-3zM664 632h3v1h-3zM670 632h3v1h-3zM676 632h3v1h-3zM682 632h3v1h-3zM688 632h3v1h-3zM694 632h3v1h-3zM700 632h3v1h-3zM706 632h3v1h-3zM712 632h3v1h-3zM718 632h3v1h-3zM724 632h3v1h-3zM730 632h3v1h-3zM736 632h3v1h-3zM742 632h3v1h-3zM748 632h3v1h-3zM754 632h3v1h-3zM760 632h3v1h-3zM766 632h3v1h-3zM772 632h3v1h-3zM778 632h3v1h-3zM784 632h3v1h-3zM790 632h3v1h-3zM796 632h3v1h-3zM802 632h3v1h-3zM808 632h3v1h-3zM814 632h3v1h-3zM820 632h3v1h-3zM826 632h3v1h-3zM832 632h3v1h-3zM838 632h3v1h-3zM844 632h3v1h-3zM850 632h3v1h-3zM856 632h3v1h-3zM862 632h3v1h-3zM868 632h3v1h-3zM874 632h3v1h-3zM880 632h3v1h-3zM886 632h3v1h-3zM892 632h3v1h-3zM898 632h3v1h-3zM904 632h3v1h-3zM910 632h3v1h-3zM916 632h3v1h-3zM922 632h3v1h-3zM928 632h3v1h-3zM934 632h3v1h-3zM940 632h3v1h-3zM946 632h3v1h-3zM952 632h3v1h-3zM958 632h3v1h-3zM964 632h3v1h-3zM970 632h3v1h-3zM976 632h3v1h-3zM982 632h3v1h-3zM988 632h3v1h-3zM994 632h3v1h-3zM1000 632h3v1h-3zM1006 632h3v1h-3zM1012 632h3v1h-3zM1018 632h3v1h-3zM1024 632h3v1h-3zM1030 632h3v1h-3zM1036 632h3v1h-3zM1042 632h3v1h-3zM1048 632h3v1h-3zM1054 632h3v1h-3zM1060 632h3v1h-3zM1066 632h3v1h-3zM1072 632h3v1h-3zM1078 632h3v1h-3zM1084 632h3v1h-3zM1090 632h3v1h-3zM1096 632h3v1h-3zM1102 632h3v1h-3zM1108 632h3v1h-3zM1114 632h3v1h-3zM1120 632h3v1h-3zM1126 632h3v1h-3zM1132 632h3v1h-3zM1138 632h3v1h-3zM1144 632h3v1h-3zM1150 632h3v1h-3zM1156 632h3v1h-3zM1162 632h3v1h-3zM1168 632h3v1h-3zM1174 632h3v1h-3zM1180 632h3v1h-3zM1186 632h3v1h-3zM1192 632h3v1h-3zM1198 632h3v1h-3zM1204 632h3v1h-3zM1210 632h3v1h-3zM1216 632h3v1h-3zM1222 632h3v1h-3zM1228 632h3v1h-3zM1234 632h3v1h-3zM1240 632h3v1h-3zM1246 632h3v1h-3zM1252 632h3v1h-3zM1258 632h3v1h-3zM1264 632h3v1h-3zM1270 632h3v1h-3zM1276 632h3v1h-3zM1282 632h3v1h-3zM1288 632h3v1h-3zM1294 632h3v1h-3zM1300 632h3v1h-3zM1306 632h3v1h-3zM1312 632h3v1h-3zM1318 632h3v1h-3zM1324 632h3v1h-3zM1330 632h3v1h-3zM1336 632h3v1h-3zM1342 632h3v1h-3zM1348 632h3v1h-3zM1354 632h3v1h-3zM1360 632h3v1h-3zM1366 632h3v1h-3zM1372 632h3v1h-3zM1378 632h3v1h-3zM1384 632h3v1h-3zM1390 632h3v1h-3zM1396 632h3v1h-3zM1402 632h3v1h-3zM1408 632h3v1h-3zM1414 632h3v1h-3zM1420 632h3v1h-3zM1426 632h3v1h-3zM1432 632h3v1h-3zM1438 632h3v1h-3zM1444 632h3v1h-3zM1450 632h3v1h-3zM1456 632h3v1h-3zM1462 632h3v1h-3zM1468 632h3v1h-3zM1474 632h3v1h-3zM1480 632h3v1h-3zM1486 632h3v1h-3zM1492 632h3v1h-3zM1498 632h3v1h-3zM1504 632h3v1h-3zM1510 632h3v1h-3zM1516 632h3v1h-3zM1522 632h3v1h-3zM1528 632h3v1h-3z" fill="#c0c0c0"/>
<rect x="3" y="565" width="1529" height="1" fill="#ff0000"/>
<path d="M275 458h3v1h-3zM278 459h4v1h-4zM272 460h2v1h-2zM282 460h2v1h-2zM268 463h2v1h-2zM355 470h2v1h-2zM467 470h3v1h-3zM357 471h2v1h-2zM470 471h2v1h-2zM235 472h3v1h-3zM359 472h2v1h-2zM482 472h2v1h-2zM238 473h4v1h-4zM361 473h2v1h-2zM473 473h2v1h-2zM478 473h4v1h-4zM242 474h2v1h-2zM350 474h2v1h-2zM475 474h3v1h-3zM244 475h2v1h-2zM246 476h2v1h-2zM257 476h2v1h-2zM818 476h2v1h-2zM978 476h2v1h-2zM49 477h2v1h-2zM255 477h2v1h-2zM294 477h2v1h-2zM816 477h2v1h-2zM976 477h2v1h-2zM249 478h2v1h-2zM253 478h2v1h-2zM345 478h2v1h-2zM813 478h3v1h-3zM46 479h2v1h-2zM251 479h2v1h-2zM811 479h2v1h-2zM44 480h2v1h-2zM342 480h2v1h-2zM972 480h2v1h-2zM34 481h10v1h-10zM299 481h5v1h-5zM340 481h2v1h-2zM970 481h2v1h-2zM30 482h4v1h-4zM304 482h4v1h-4zM966 482h4v1h-4zM27 483h3v1h-3zM963 483h3v1h-3zM62 490h2v1h-2zM1153 490h2v1h-2zM1150 492h2v1h-2zM1148 493h2v1h-2zM316 494h2v1h-2zM318 495h2v1h-2zM321 497h2v1h-2zM324 499h2v1h-2zM17 500h2v1h-2zM326 500h2v1h-2zM424 500h4v1h-4zM419 501h5v1h-5zM428 501h2v1h-2zM14 502h2v1h-2zM329 502h3v1h-3zM430 502h2v1h-2zM12 503h2v1h-2zM433 504h2v1h-2zM883 514h2v1h-2zM883 515h2v1h-2zM642 517h2v1h-2zM387 522h9v1h-9zM398 525h2v1h-2zM402 528h2v1h-2zM443 536h2v1h-2zM170 540h2v1h-2zM107 547h2v1h-2zM782 560h2v1h-2zM920 592h4v1h-4zM915 593h5v1h-5zM762 594h2v1h-2zM758 595h4v1h-4zM755 596h3v1h-3zM139 605h2v1h-2zM141 606h2v1h-2zM143 607h2v1h-2zM145 608h3v1h-3zM1059 609h3v1h-3zM1102 610h2v1h-2zM1073 611h3v1h-3zM1064 612h2v1h-2zM1071 612h2v1h-2zM131 613h2v1h-2zM1069 613h2v1h-2zM1098 613h2v1h-2zM1067 614h2v1h-2zM1094 614h4v1h-4zM1091 615h3v1h-3zM578 618h3v1h-3zM576 619h2v1h-2zM581 619h3v1h-3zM573 620h3v1h-3zM584 620h2v1h-2zM571 621h2v1h-2zM586 621h2v1h-2zM569 622h2v1h-2zM588 622h2v1h-2zM566 624h2v1h-2zM564 625h2v1h-2zM592 625h2v1h-2zM734 625h2v1h-2zM744 625h2v1h-2zM531 626h2v1h-2zM554 626h10v1h-10zM1083 626h2v1h-2zM1202 626h2v1h-2zM533 627h2v1h-2zM552 627h2v1h-2zM535 628h2v1h-2zM549 628h3v1h-3zM740 628h2v1h-2zM537 629h2v1h-2zM544 629h5v1h-5zM539 630h5v1h-5zM858 637h2v1h-2zM603 638h3v1h-3zM606 639h4v1h-4zM194 640h2v1h-2zM610 640h2v1h-2zM194 641h2v1h-2zM515 647h5v1h-5zM1019 647h3v1h-3zM520 648h4v1h-4zM1022 648h4v1h-4zM1026 649h2v1h-2zM1028 650h2v1h-2zM1032 653h2v1h-2zM1034 654h2v1h-2zM3 528v2h1v-2zM4 525v3h1v-3zM5 522v3h1v-3zM6 519v3h1v-3zM7 515v4h1v-4zM8 512v3h1v-3zM9 509v3h1v-3zM10 506v3h1v-3zM11 504v2h1v-2zM16 501v1h1v-1zM19 498v2h1v-2zM20 496v2h1v-2zM21 494v2h1v-2zM22 492v2h1v-2zM23 490v2h1v-2zM24 488v2h1v-2zM25 486v2h1v-2zM26 484v2h1v-2zM48 478v1h1v-1zM51 476v1h1v-1zM52 477v2h1v-2zM53 479v1h1v-1zM54 480v1h1v-1zM55 481v2h1v-2zM56 483v1h1v-1zM57 484v1h1v-1zM58 485v2h1v-2zM59 487v1h1v-1zM60 488v1h1v-1zM61 489v1h1v-1zM64 491v1h1v-1zM65 492v1h1v-1zM66 493v1h1v-1zM67 494v2h1v-2zM68 496v3h1v-3zM69 499v3h1v-3zM70 502v3h1v-3zM71 505v4h1v-4zM72 509v3h1v-3zM73 512v3h1v-3zM74 515v3h1v-3zM75 518v6h1v-6zM76 524v8h1v-8zM77 532v8h1v-8zM78 540v8h1v-8zM79 548v8h1v-8zM80 556v8h1v-8zM81 564v8h1v-8zM82 572v8h1v-8zM83 580v5h1v-5zM84 585v2h1v-2zM85 587v2h1v-2zM86 589v2h1v-2zM87 591v2h1v-2zM88 593v2h1v-2zM89 595v2h1v-2zM90 597v2h1v-2zM91 599v1h1v-1zM92 597v2h1v-2zM93 595v2h1v-2zM94 593v2h1v-2zM95 591v2h1v-2zM96 589v2h1v-2zM97 587v2h1v-2zM98 585v2h1v-2zM99 582v3h1v-3zM100 577v5h1v-5zM101 572v5h1v-5zM102 567v5h1v-5zM103 563v4h1v-4zM104 558v5h1v-5zM105 553v5h1v-5zM106 548v5h1v-5zM107 545v2h1v-2zM108 548v1h1v-1zM109 549v3h1v-3zM110 552v2h1v-2zM111 554v3h1v-3zM112 557v2h1v-2zM113 559v3h1v-3zM114 562v2h1v-2zM115 564v3h1v-3zM116 567v3h1v-3zM117 570v3h1v-3zM118 573v3h1v-3zM119 576v4h1v-4zM120 580v3h1v-3zM121 583v3h1v-3zM122 586v3h1v-3zM123 589v3h1v-3zM124 592v3h1v-3zM125 595v3h1v-3zM126 598v3h1v-3zM127 601v3h1v-3zM128 604v3h1v-3zM129 607v3h1v-3zM130 610v3h1v-3zM131 614v1h1v-1zM133 612v1h1v-1zM134 611v1h1v-1zM135 609v2h1v-2zM136 608v1h1v-1zM137 607v1h1v-1zM138 606v1h1v-1zM147 609v1h1v-1zM148 605v3h1v-3zM149 602v3h1v-3zM150 599v3h1v-3zM151 597v2h1v-2zM152 594v3h1v-3zM153 591v3h1v-3zM154 588v3h1v-3zM155 585v3h1v-3zM156 582v3h1v-3zM157 579v3h1v-3zM158 576v3h1v-3zM159 573v3h1v-3zM160 570v3h1v-3zM161 567v3h1v-3zM162 564v3h1v-3zM163 561v3h1v-3zM164 558v3h1v-3zM165 555v3h1v-3zM166 552v3h1v-3zM167 549v3h1v-3zM168 546v3h1v-3zM169 543v3h1v-3zM170 541v2h1v-2zM171 538v2h1v-2zM172 541v6h1v-6zM173 547v5h1v-5zM174 552v6h1v-6zM175 558v5h1v-5zM176 563v6h1v-6zM177 569v5h1v-5zM178 574v6h1v-6zM179 580v5h1v-5zM180 585v6h1v-6zM181 591v5h1v-5zM182 596v6h1v-6zM183 602v5h1v-5zM184 607v6h1v-6zM185 613v5h1v-5zM186 618v6h1v-6zM187 624v4h1v-4zM188 628v2h1v-2zM189 630v2h1v-2zM190 632v2h1v-2zM191 634v2h1v-2zM192 636v2h1v-2zM193 638v2h1v-2zM195 642v1h1v-1zM196 636v4h1v-4zM197 632v4h1v-4zM198 628v4h1v-4zM199 623v5h1v-5zM200 619v4h1v-4zM201 615v4h1v-4zM202 611v4h1v-4zM203 606v5h1v-5zM204 601v5h1v-5zM205 595v6h1v-6zM206 590v5h1v-5zM207 585v5h1v-5zM208 580v5h1v-5zM209 574v6h1v-6zM210 569v5h1v-5zM211 564v5h1v-5zM212 559v5h1v-5zM213 553v6h1v-6zM214 548v5h1v-5zM215 543v5h1v-5zM216 538v5h1v-5zM217 532v6h1v-6zM218 527v5h1v-5zM219 523v4h1v-4zM220 519v4h1v-4zM221 515v4h1v-4zM222 511v4h1v-4zM223 508v3h1v-3zM224 504v4h1v-4zM225 500v4h1v-4zM226 496v4h1v-4zM227 493v3h1v-3zM228 490v3h1v-3zM229 488v2h1v-2zM230 485v3h1v-3zM231 482v3h1v-3zM232 479v3h1v-3zM233 477v2h1v-2zM234 474v3h1v-3zM235 473v1h1v-1zM248 477v1h1v-1zM259 475v1h1v-1zM260 473v2h1v-2zM261 472v1h1v-1zM262 471v1h1v-1zM263 469v2h1v-2zM264 468v1h1v-1zM265 467v1h1v-1zM266 465v2h1v-2zM267 464v1h1v-1zM270 462v1h1v-1zM271 461v1h1v-1zM274 459v1h1v-1zM284 461v2h1v-2zM285 463v2h1v-2zM286 465v2h1v-2zM287 467v1h1v-1zM288 468v2h1v-2zM289 470v2h1v-2zM290 472v2h1v-2zM291 474v1h1v-1zM292 475v1h1v-1zM293 476v1h1v-1zM296 478v1h1v-1zM297 479v1h1v-1zM298 480v1h1v-1zM308 483v2h1v-2zM309 485v1h1v-1zM310 486v1h1v-1zM311 487v2h1v-2zM312 489v1h1v-1zM313 490v1h1v-1zM314 491v2h1v-2zM315 493v1h1v-1zM320 496v1h1v-1zM323 498v1h1v-1zM328 501v1h1v-1zM331 503v1h1v-1zM332 500v2h1v-2zM333 497v3h1v-3zM334 494v3h1v-3zM335 492v2h1v-2zM336 489v3h1v-3zM337 486v3h1v-3zM338 484v2h1v-2zM339 482v2h1v-2zM344 479v1h1v-1zM347 477v1h1v-1zM348 476v1h1v-1zM349 475v1h1v-1zM352 473v1h1v-1zM353 472v1h1v-1zM354 471v1h1v-1zM363 474v2h1v-2zM364 476v2h1v-2zM365 478v2h1v-2zM366 480v3h1v-3zM367 483v2h1v-2zM368 485v3h1v-3zM369 488v2h1v-2zM370 490v2h1v-2zM371 492v2h1v-2zM372 494v1h1v-1zM373 495v1h1v-1zM374 496v1h1v-1zM375 497v1h1v-1zM376 498v1h1v-1zM377 499v1h1v-1zM378 500v1h1v-1zM379 501v2h1v-2zM380 503v2h1v-2zM381 505v3h1v-3zM382 508v3h1v-3zM383 511v2h1v-2zM384 513v3h1v-3zM385 516v3h1v-3zM386 519v2h1v-2zM387 521v1h1v-1zM396 523v1h1v-1zM397 524v1h1v-1zM400 526v1h1v-1zM401 527v1h1v-1zM403 529v1h1v-1zM404 526v2h1v-2zM405 524v2h1v-2zM406 522v2h1v-2zM407 519v3h1v-3zM408 517v2h1v-2zM409 515v2h1v-2zM410 513v2h1v-2zM411 511v2h1v-2zM412 510v1h1v-1zM413 508v2h1v-2zM414 507v1h1v-1zM415 506v1h1v-1zM416 505v1h1v-1zM417 503v2h1v-2zM418 502v1h1v-1zM432 503v1h1v-1zM435 505v3h1v-3zM436 508v4h1v-4zM437 512v4h1v-4zM438 516v4h1v-4zM439 520v4h1v-4zM440 524v4h1v-4zM441 528v4h1v-4zM442 532v4h1v-4zM443 537v2h1v-2zM444 535v1h1v-1zM445 533v2h1v-2zM446 531v2h1v-2zM447 529v2h1v-2zM448 527v2h1v-2zM449 525v2h1v-2zM450 523v2h1v-2zM451 520v3h1v-3zM452 516v4h1v-4zM453 513v3h1v-3zM454 510v3h1v-3zM455 506v4h1v-4zM456 503v3h1v-3zM457 500v3h1v-3zM458 496v4h1v-4zM459 493v3h1v-3zM460 490v3h1v-3zM461 487v3h1v-3zM462 484v3h1v-3zM463 480v4h1v-4zM464 477v3h1v-3zM465 474v3h1v-3zM466 471v3h1v-3zM467 469v1h1v-1zM472 472v1h1v-1zM483 473v1h1v-1zM484 474v2h1v-2zM485 476v2h1v-2zM486 478v2h1v-2zM487 480v2h1v-2zM488 482v2h1v-2zM489 484v2h1v-2zM490 486v2h1v-2zM491 488v3h1v-3zM492 491v4h1v-4zM493 495v4h1v-4zM494 499v4h1v-4zM495 503v5h1v-5zM496 508v4h1v-4zM497 512v4h1v-4zM498 516v4h1v-4zM499 520v8h1v-8zM500 528v10h1v-10zM501 538v11h1v-11zM502 549v10h1v-10zM503 559v11h1v-11zM504 570v10h1v-10zM505 580v11h1v-11zM506 591v10h1v-10zM507 601v8h1v-8zM508 609v5h1v-5zM509 614v5h1v-5zM510 619v5h1v-5zM511 624v6h1v-6zM512 630v5h1v-5zM513 635v5h1v-5zM514 640v5h1v-5zM515 645v2h1v-2zM523 647v1h1v-1zM524 644v3h1v-3zM525 642v2h1v-2zM526 639v3h1v-3zM527 636v3h1v-3zM528 633v3h1v-3zM529 631v2h1v-2zM530 628v3h1v-3zM531 627v1h1v-1zM568 623v1h1v-1zM590 623v1h1v-1zM591 624v1h1v-1zM594 626v1h1v-1zM595 627v1h1v-1zM596 628v2h1v-2zM597 630v1h1v-1zM598 631v1h1v-1zM599 632v2h1v-2zM600 634v1h1v-1zM601 635v1h1v-1zM602 636v2h1v-2zM612 639v1h1v-1zM613 637v2h1v-2zM614 636v1h1v-1zM615 635v1h1v-1zM616 634v1h1v-1zM617 632v2h1v-2zM618 631v1h1v-1zM619 629v2h1v-2zM620 625v4h1v-4zM621 621v4h1v-4zM622 617v4h1v-4zM623 614v3h1v-3zM624 610v4h1v-4zM625 606v4h1v-4zM626 602v4h1v-4zM627 597v5h1v-5zM628 591v6h1v-6zM629 584v7h1v-7zM630 577v7h1v-7zM631 571v6h1v-6zM632 564v7h1v-7zM633 557v7h1v-7zM634 551v6h1v-6zM635 545v6h1v-6zM636 541v4h1v-4zM637 537v4h1v-4zM638 533v4h1v-4zM639 529v4h1v-4zM640 525v4h1v-4zM641 521v4h1v-4zM642 518v3h1v-3zM643 515v2h1v-2zM644 518v4h1v-4zM645 522v4h1v-4zM646 526v4h1v-4zM647 530v4h1v-4zM648 534v4h1v-4zM649 538v4h1v-4zM650 542v4h1v-4zM651 546v6h1v-6zM652 552v6h1v-6zM653 558v6h1v-6zM654 564v6h1v-6zM655 570v6h1v-6zM656 576v6h1v-6zM657 582v6h1v-6zM658 588v6h1v-6zM659 594v5h1v-5zM660 599v5h1v-5zM661 604v5h1v-5zM662 609v5h1v-5zM663 614v6h1v-6zM664 620v5h1v-5zM665 625v5h1v-5zM666 630v5h1v-5zM667 635v3h1v-3zM668 638v1h1v-1zM669 639v1h1v-1zM670 640v1h1v-1zM671 641v2h1v-2zM672 643v1h1v-1zM673 644v1h1v-1zM674 645v1h1v-1zM675 646v1h1v-1zM676 645v1h1v-1zM677 643v2h1v-2zM678 642v1h1v-1zM679 641v1h1v-1zM680 640v1h1v-1zM681 638v2h1v-2zM682 637v1h1v-1zM683 635v2h1v-2zM684 631v4h1v-4zM685 627v4h1v-4zM686 624v3h1v-3zM687 620v4h1v-4zM688 617v3h1v-3zM689 613v4h1v-4zM690 609v4h1v-4zM691 605v4h1v-4zM692 601v4h1v-4zM693 597v4h1v-4zM694 593v4h1v-4zM695 588v5h1v-5zM696 584v4h1v-4zM697 580v4h1v-4zM698 576v4h1v-4zM699 572v4h1v-4zM700 569v3h1v-3zM701 566v3h1v-3zM702 563v3h1v-3zM703 561v2h1v-2zM704 558v3h1v-3zM705 555v3h1v-3zM706 552v3h1v-3zM707 550v2h1v-2zM708 549v1h1v-1zM709 548v1h1v-1zM710 547v1h1v-1zM711 546v1h1v-1zM712 545v1h1v-1zM713 544v1h1v-1zM714 543v1h1v-1zM715 542v1h1v-1zM716 543v2h1v-2zM717 545v2h1v-2zM718 547v2h1v-2zM719 549v1h1v-1zM720 550v2h1v-2zM721 552v2h1v-2zM722 554v2h1v-2zM723 556v5h1v-5zM724 561v8h1v-8zM725 569v8h1v-8zM726 577v8h1v-8zM727 585v9h1v-9zM728 594v8h1v-8zM729 602v8h1v-8zM730 610v8h1v-8zM731 618v5h1v-5zM732 623v1h1v-1zM733 624v1h1v-1zM736 626v1h1v-1zM737 627v1h1v-1zM738 628v1h1v-1zM739 629v1h1v-1zM742 627v1h1v-1zM743 626v1h1v-1zM746 624v1h1v-1zM747 622v2h1v-2zM748 618v4h1v-4zM749 615v3h1v-3zM750 612v3h1v-3zM751 608v4h1v-4zM752 605v3h1v-3zM753 602v3h1v-3zM754 598v4h1v-4zM755 597v1h1v-1zM763 593v1h1v-1zM764 591v2h1v-2zM765 588v3h1v-3zM766 586v2h1v-2zM767 583v3h1v-3zM768 581v2h1v-2zM769 578v3h1v-3zM770 576v2h1v-2zM771 574v2h1v-2zM772 572v2h1v-2zM773 571v1h1v-1zM774 570v1h1v-1zM775 568v2h1v-2zM776 567v1h1v-1zM777 566v1h1v-1zM778 564v2h1v-2zM779 563v1h1v-1zM780 562v1h1v-1zM781 561v1h1v-1zM784 559v1h1v-1zM785 558v1h1v-1zM786 557v1h1v-1zM787 555v2h1v-2zM788 551v4h1v-4zM789 548v3h1v-3zM790 544v4h1v-4zM791 541v3h1v-3zM792 537v4h1v-4zM793 534v3h1v-3zM794 530v4h1v-4zM795 527v3h1v-3zM796 524v3h1v-3zM797 520v4h1v-4zM798 517v3h1v-3zM799 514v3h1v-3zM800 511v3h1v-3zM801 507v4h1v-4zM802 504v3h1v-3zM803 501v3h1v-3zM804 498v3h1v-3zM805 495v3h1v-3zM806 492v3h1v-3zM807 490v2h1v-2zM808 487v3h1v-3zM809 484v3h1v-3zM810 481v3h1v-3zM811 480v1h1v-1zM819 477v1h1v-1zM820 478v2h1v-2zM821 480v3h1v-3zM822 483v2h1v-2zM823 485v3h1v-3zM824 488v2h1v-2zM825 490v3h1v-3zM826 493v2h1v-2zM827 495v4h1v-4zM828 499v4h1v-4zM829 503v4h1v-4zM830 507v4h1v-4zM831 511v4h1v-4zM832 515v4h1v-4zM833 519v4h1v-4zM834 523v4h1v-4zM835 527v5h1v-5zM836 532v6h1v-6zM837 538v6h1v-6zM838 544v6h1v-6zM839 550v6h1v-6zM840 556v6h1v-6zM841 562v6h1v-6zM842 568v6h1v-6zM843 574v6h1v-6zM844 580v6h1v-6zM845 586v7h1v-7zM846 593v6h1v-6zM847 599v7h1v-7zM848 606v6h1v-6zM849 612v7h1v-7zM850 619v6h1v-6zM851 625v4h1v-4zM852 629v1h1v-1zM853 630v2h1v-2zM854 632v1h1v-1zM855 633v1h1v-1zM856 634v1h1v-1zM857 635v2h1v-2zM859 638v1h1v-1zM860 635v2h1v-2zM861 633v2h1v-2zM862 631v2h1v-2zM863 628v3h1v-3zM864 626v2h1v-2zM865 624v2h1v-2zM866 622v2h1v-2zM867 617v5h1v-5zM868 611v6h1v-6zM869 604v7h1v-7zM870 597v7h1v-7zM871 591v6h1v-6zM872 584v7h1v-7zM873 577v7h1v-7zM874 571v6h1v-6zM875 564v7h1v-7zM876 557v7h1v-7zM877 551v6h1v-6zM878 544v7h1v-7zM879 537v7h1v-7zM880 530v7h1v-7zM881 524v6h1v-6zM882 517v7h1v-7zM883 513v1h1v-1zM883 516v1h1v-1zM885 516v1h1v-1zM886 517v1h1v-1zM887 518v2h1v-2zM888 520v1h1v-1zM889 521v1h1v-1zM890 522v2h1v-2zM891 524v1h1v-1zM892 525v1h1v-1zM893 526v2h1v-2zM894 528v1h1v-1zM895 529v1h1v-1zM896 530v1h1v-1zM897 531v2h1v-2zM898 533v1h1v-1zM899 534v1h1v-1zM900 535v2h1v-2zM901 537v2h1v-2zM902 539v2h1v-2zM903 541v2h1v-2zM904 543v2h1v-2zM905 545v2h1v-2zM906 547v2h1v-2zM907 549v3h1v-3zM908 552v6h1v-6zM909 558v5h1v-5zM910 563v6h1v-6zM911 569v5h1v-5zM912 574v6h1v-6zM913 580v5h1v-5zM914 585v6h1v-6zM915 591v2h1v-2zM924 590v2h1v-2zM925 589v1h1v-1zM926 587v2h1v-2zM927 586v1h1v-1zM928 584v2h1v-2zM929 583v1h1v-1zM930 581v2h1v-2zM931 578v3h1v-3zM932 573v5h1v-5zM933 568v5h1v-5zM934 563v5h1v-5zM935 559v4h1v-4zM936 554v5h1v-5zM937 549v5h1v-5zM938 544v5h1v-5zM939 540v4h1v-4zM940 537v3h1v-3zM941 534v3h1v-3zM942 531v3h1v-3zM943 527v4h1v-4zM944 524v3h1v-3zM945 521v3h1v-3zM946 518v3h1v-3zM947 515v3h1v-3zM948 513v2h1v-2zM949 511v2h1v-2zM950 509v2h1v-2zM951 506v3h1v-3zM952 504v2h1v-2zM953 502v2h1v-2zM954 500v2h1v-2zM955 498v2h1v-2zM956 496v2h1v-2zM957 494v2h1v-2zM958 492v2h1v-2zM959 490v2h1v-2zM960 488v2h1v-2zM961 486v2h1v-2zM962 484v2h1v-2zM974 479v1h1v-1zM975 478v1h1v-1zM979 475v1h1v-1zM979 477v1h1v-1zM980 478v4h1v-4zM981 482v4h1v-4zM982 486v5h1v-5zM983 491v4h1v-4zM984 495v5h1v-5zM985 500v4h1v-4zM986 504v4h1v-4zM987 508v4h1v-4zM988 512v2h1v-2zM989 514v2h1v-2zM990 516v2h1v-2zM991 518v2h1v-2zM992 520v2h1v-2zM993 522v2h1v-2zM994 524v2h1v-2zM995 526v5h1v-5zM996 531v6h1v-6zM997 537v6h1v-6zM998 543v6h1v-6zM999 549v7h1v-7zM1000 556v6h1v-6zM1001 562v6h1v-6zM1002 568v6h1v-6zM1003 574v4h1v-4zM1004 578v2h1v-2zM1005 580v2h1v-2zM1006 582v1h1v-1zM1007 583v2h1v-2zM1008 585v1h1v-1zM1009 586v2h1v-2zM1010 588v2h1v-2zM1011 590v4h1v-4zM1012 594v7h1v-7zM1013 601v7h1v-7zM1014 608v7h1v-7zM1015 615v8h1v-8zM1016 623v7h1v-7zM1017 630v7h1v-7zM1018 637v7h1v-7zM1019 644v3h1v-3zM1030 651v1h1v-1zM1031 652v1h1v-1zM1035 655v1h1v-1zM1036 652v2h1v-2zM1037 650v2h1v-2zM1038 648v2h1v-2zM1039 646v2h1v-2zM1040 644v2h1v-2zM1041 642v2h1v-2zM1042 640v2h1v-2zM1043 638v2h1v-2zM1044 637v1h1v-1zM1045 635v2h1v-2zM1046 634v1h1v-1zM1047 633v1h1v-1zM1048 632v1h1v-1zM1049 630v2h1v-2zM1050 629v1h1v-1zM1051 627v2h1v-2zM1052 625v2h1v-2zM1053 622v3h1v-3zM1054 620v2h1v-2zM1055 617v3h1v-3zM1056 615v2h1v-2zM1057 612v3h1v-3zM1058 610v2h1v-2zM1059 608v1h1v-1zM1062 610v1h1v-1zM1063 611v1h1v-1zM1066 613v1h1v-1zM1075 610v1h1v-1zM1076 612v2h1v-2zM1077 614v2h1v-2zM1078 616v2h1v-2zM1079 618v2h1v-2zM1080 620v2h1v-2zM1081 622v2h1v-2zM1082 624v2h1v-2zM1083 627v1h1v-1zM1084 625v1h1v-1zM1085 624v1h1v-1zM1086 622v2h1v-2zM1087 621v1h1v-1zM1088 619v2h1v-2zM1089 618v1h1v-1zM1090 616v2h1v-2zM1100 612v1h1v-1zM1101 611v1h1v-1zM1104 609v1h1v-1zM1105 608v1h1v-1zM1106 607v1h1v-1zM1107 606v1h1v-1zM1108 604v2h1v-2zM1109 602v2h1v-2zM1110 600v2h1v-2zM1111 598v2h1v-2zM1112 596v2h1v-2zM1113 594v2h1v-2zM1114 592v2h1v-2zM1115 591v1h1v-1zM1116 589v2h1v-2zM1117 588v1h1v-1zM1118 587v1h1v-1zM1119 585v2h1v-2zM1120 584v1h1v-1zM1121 583v1h1v-1zM1122 581v2h1v-2zM1123 578v3h1v-3zM1124 572v6h1v-6zM1125 567v5h1v-5zM1126 561v6h1v-6zM1127 556v5h1v-5zM1128 550v6h1v-6zM1129 545v5h1v-5zM1130 539v6h1v-6zM1131 536v3h1v-3zM1132 534v2h1v-2zM1133 532v2h1v-2zM1134 530v2h1v-2zM1135 528v2h1v-2zM1136 526v2h1v-2zM1137 524v2h1v-2zM1138 522v2h1v-2zM1139 520v2h1v-2zM1140 516v4h1v-4zM1141 513v3h1v-3zM1142 510v3h1v-3zM1143 506v4h1v-4zM1144 503v3h1v-3zM1145 500v3h1v-3zM1146 496v4h1v-4zM1147 494v2h1v-2zM1152 491v1h1v-1zM1155 489v1h1v-1zM1156 490v2h1v-2zM1157 492v2h1v-2zM1158 494v2h1v-2zM1159 496v1h1v-1zM1160 497v2h1v-2zM1161 499v2h1v-2zM1162 501v2h1v-2zM1163 503v3h1v-3zM1164 506v4h1v-4zM1165 510v5h1v-5zM1166 515v5h1v-5zM1167 520v4h1v-4zM1168 524v5h1v-5zM1169 529v5h1v-5zM1170 534v4h1v-4zM1171 538v4h1v-4zM1172 542v2h1v-2zM1173 544v3h1v-3zM1174 547v3h1v-3zM1175 550v2h1v-2zM1176 552v3h1v-3zM1177 555v3h1v-3zM1178 558v2h1v-2zM1179 560v5h1v-5zM1180 565v6h1v-6zM1181 571v6h1v-6zM1182 577v6h1v-6zM1183 583v6h1v-6zM1184 589v6h1v-6zM1185 595v6h1v-6zM1186 601v6h1v-6zM1187 607v3h1v-3zM1188 610v1h1v-1zM1189 611v1h1v-1zM1190 612v1h1v-1zM1191 613v2h1v-2zM1192 615v1h1v-1zM1193 616v1h1v-1zM1194 617v1h1v-1zM1195 618v1h1v-1zM1196 619v1h1v-1zM1197 620v1h1v-1zM1198 621v1h1v-1zM1199 622v2h1v-2zM1200 624v1h1v-1zM1201 625v1h1v-1zM1203 627v1h1v-1zM1204 622v4h1v-4zM1205 618v4h1v-4zM1206 614v4h1v-4zM1207 610v4h1v-4zM1208 606v4h1v-4zM1209 602v4h1v-4zM1210 598v4h1v-4zM1211 597v1h1v-1z" fill="#20b2aa"/>
<path d="M283 460h2v1h-2zM289 463h2v1h-2zM266 473h2v1h-2zM484 473h2v1h-2zM253 475h3v1h-3zM358 475h3v1h-3zM364 475h2v1h-2zM259 476h2v1h-2zM478 476h2v1h-2zM50 479h3v1h-3zM56 480h2v1h-2zM308 480h2v1h-2zM44 481h2v1h-2zM62 483h2v1h-2zM826 484h2v1h-2zM38 485h2v1h-2zM819 486h3v1h-3zM320 489h2v1h-2zM326 494h2v1h-2zM337 495h2v1h-2zM1160 497h2v1h-2zM331 498h2v1h-2zM434 502h2v1h-2zM427 504h3v1h-3zM453 520h3v1h-3zM405 523h3v1h-3zM722 550h2v1h-2zM716 554h2v1h-2zM178 561h2v1h-2zM172 562h3v1h-3zM115 564h2v1h-2zM120 565h2v1h-2zM1078 613h2v1h-2zM1209 614h2v1h-2zM1102 615h2v1h-2zM1084 617h3v1h-3zM1090 617h3v1h-3zM1204 617h2v1h-2zM1096 618h3v1h-3zM583 621h3v1h-3zM590 621h2v1h-2zM578 622h2v1h-2zM596 623h2v1h-2zM571 624h3v1h-3zM565 626h3v1h-3zM560 627h2v1h-2zM547 628h3v1h-3zM553 628h3v1h-3zM613 635h3v1h-3zM536 636h2v1h-2zM1037 649h3v1h-3zM3 532v1h1v-1zM4 530v2h1v-2zM7 526v1h1v-1zM8 524v2h1v-2zM11 520v1h1v-1zM12 519v1h1v-1zM13 518v1h1v-1zM16 514v1h1v-1zM17 513v1h1v-1zM18 512v1h1v-1zM20 508v1h1v-1zM21 506v2h1v-2zM23 502v1h1v-1zM24 500v2h1v-2zM26 496v1h1v-1zM27 495v1h1v-1zM28 494v1h1v-1zM32 491v1h1v-1zM33 490v1h1v-1zM34 489v1h1v-1zM40 484v1h1v-1zM46 480v1h1v-1zM58 481v1h1v-1zM64 484v1h1v-1zM68 487v2h1v-2zM69 489v1h1v-1zM71 493v1h1v-1zM72 494v2h1v-2zM74 499v1h1v-1zM75 500v2h1v-2zM76 505v2h1v-2zM77 507v1h1v-1zM78 511v3h1v-3zM79 517v2h1v-2zM80 519v1h1v-1zM81 523v3h1v-3zM82 529v2h1v-2zM83 531v1h1v-1zM84 535v3h1v-3zM85 541v2h1v-2zM86 543v1h1v-1zM86 547v1h1v-1zM87 548v2h1v-2zM88 553v3h1v-3zM89 559v2h1v-2zM90 561v1h1v-1zM91 565v3h1v-3zM92 571v1h1v-1zM93 572v2h1v-2zM95 577v3h1v-3zM97 583v2h1v-2zM98 585v1h1v-1zM99 589v1h1v-1zM100 587v2h1v-2zM103 582v2h1v-2zM104 581v1h1v-1zM106 577v1h1v-1zM107 576v1h1v-1zM108 575v1h1v-1zM110 571v1h1v-1zM111 570v1h1v-1zM112 569v1h1v-1zM114 565v1h1v-1zM122 566v1h1v-1zM124 569v2h1v-2zM125 571v1h1v-1zM126 575v2h1v-2zM127 577v1h1v-1zM128 581v1h1v-1zM129 582v2h1v-2zM130 587v1h1v-1zM131 588v2h1v-2zM133 593v1h1v-1zM134 594v2h1v-2zM137 599v2h1v-2zM138 601v1h1v-1zM141 604v1h1v-1zM142 605v1h1v-1zM143 606v1h1v-1zM147 609v1h1v-1zM148 608v1h1v-1zM149 607v1h1v-1zM152 603v1h1v-1zM153 602v1h1v-1zM154 601v1h1v-1zM157 596v2h1v-2zM158 595v1h1v-1zM160 591v1h1v-1zM161 589v2h1v-2zM163 585v1h1v-1zM164 583v2h1v-2zM165 579v1h1v-1zM166 577v2h1v-2zM167 573v1h1v-1zM168 571v2h1v-2zM169 567v1h1v-1zM170 565v2h1v-2zM179 562v1h1v-1zM181 566v2h1v-2zM182 568v1h1v-1zM183 572v1h1v-1zM184 573v2h1v-2zM185 578v1h1v-1zM186 579v2h1v-2zM187 584v1h1v-1zM188 585v2h1v-2zM189 590v3h1v-3zM190 596v2h1v-2zM191 598v1h1v-1zM192 602v3h1v-3zM193 608v3h1v-3zM194 614v1h1v-1zM195 615v2h1v-2zM198 620v1h1v-1zM199 621v2h1v-2zM203 625v2h1v-2zM204 624v1h1v-1zM205 620v1h1v-1zM206 618v2h1v-2zM208 612v3h1v-3zM210 607v2h1v-2zM211 606v1h1v-1zM212 600v3h1v-3zM213 594v3h1v-3zM214 588v3h1v-3zM215 584v1h1v-1zM216 582v2h1v-2zM217 576v3h1v-3zM218 570v3h1v-3zM219 564v3h1v-3zM220 559v2h1v-2zM221 558v1h1v-1zM222 552v3h1v-3zM223 546v3h1v-3zM224 540v3h1v-3zM225 536v1h1v-1zM226 534v2h1v-2zM227 528v3h1v-3zM228 523v2h1v-2zM229 522v1h1v-1zM230 516v3h1v-3zM231 511v2h1v-2zM232 510v1h1v-1zM233 504v3h1v-3zM234 499v2h1v-2zM235 498v1h1v-1zM236 494v1h1v-1zM237 492v2h1v-2zM239 488v1h1v-1zM240 486v2h1v-2zM242 482v1h1v-1zM243 480v2h1v-2zM247 478v1h1v-1zM248 477v1h1v-1zM249 476v1h1v-1zM261 475v1h1v-1zM265 474v1h1v-1zM271 470v1h1v-1zM272 469v1h1v-1zM273 468v1h1v-1zM277 465v1h1v-1zM278 464v1h1v-1zM279 463v1h1v-1zM285 461v1h1v-1zM291 464v1h1v-1zM295 467v1h1v-1zM296 468v1h1v-1zM297 469v1h1v-1zM301 473v1h1v-1zM302 474v1h1v-1zM303 475v1h1v-1zM307 479v1h1v-1zM313 483v1h1v-1zM314 484v1h1v-1zM315 485v1h1v-1zM319 488v1h1v-1zM325 493v1h1v-1zM333 497v1h1v-1zM339 494v1h1v-1zM343 491v1h1v-1zM344 490v1h1v-1zM345 489v1h1v-1zM348 485v1h1v-1zM349 484v1h1v-1zM350 483v1h1v-1zM353 479v1h1v-1zM354 477v2h1v-2zM366 476v1h1v-1zM370 478v1h1v-1zM371 479v1h1v-1zM372 480v1h1v-1zM375 484v1h1v-1zM376 485v1h1v-1zM377 486v1h1v-1zM379 490v1h1v-1zM380 491v2h1v-2zM382 496v1h1v-1zM383 497v2h1v-2zM385 502v1h1v-1zM386 503v2h1v-2zM389 508v1h1v-1zM390 509v1h1v-1zM391 510v1h1v-1zM394 514v1h1v-1zM395 515v1h1v-1zM396 516v1h1v-1zM399 520v1h1v-1zM400 521v1h1v-1zM401 522v1h1v-1zM411 521v1h1v-1zM412 520v1h1v-1zM413 519v1h1v-1zM417 516v1h1v-1zM418 515v1h1v-1zM419 514v1h1v-1zM422 510v1h1v-1zM423 509v1h1v-1zM424 508v1h1v-1zM433 503v1h1v-1zM438 506v2h1v-2zM439 508v1h1v-1zM442 512v2h1v-2zM443 514v1h1v-1zM447 517v1h1v-1zM448 518v1h1v-1zM449 519v1h1v-1zM459 517v2h1v-2zM460 516v1h1v-1zM461 511v2h1v-2zM462 510v1h1v-1zM463 506v1h1v-1zM464 504v2h1v-2zM465 500v1h1v-1zM466 498v2h1v-2zM467 494v1h1v-1zM468 492v2h1v-2zM470 488v1h1v-1zM471 486v2h1v-2zM473 482v1h1v-1zM474 480v2h1v-2zM480 475v1h1v-1zM486 474v1h1v-1zM490 477v1h1v-1zM491 478v2h1v-2zM493 483v1h1v-1zM494 484v2h1v-2zM496 489v1h1v-1zM497 490v2h1v-2zM499 495v2h1v-2zM500 497v1h1v-1zM500 501v2h1v-2zM501 503v1h1v-1zM501 507v1h1v-1zM502 508v2h1v-2zM502 513v1h1v-1zM503 514v2h1v-2zM504 519v3h1v-3zM505 525v3h1v-3zM506 531v3h1v-3zM507 537v3h1v-3zM508 543v3h1v-3zM509 549v3h1v-3zM510 555v3h1v-3zM510 561v1h1v-1zM511 562v2h1v-2zM511 567v1h1v-1zM512 568v2h1v-2zM512 573v2h1v-2zM513 575v1h1v-1zM513 579v3h1v-3zM514 585v3h1v-3zM515 591v3h1v-3zM516 597v2h1v-2zM517 599v1h1v-1zM517 603v2h1v-2zM518 605v1h1v-1zM518 609v1h1v-1zM519 610v2h1v-2zM520 615v3h1v-3zM521 621v3h1v-3zM522 627v3h1v-3zM523 633v1h1v-1zM524 634v1h1v-1zM525 635v1h1v-1zM529 638v1h1v-1zM530 639v1h1v-1zM531 640v1h1v-1zM535 637v1h1v-1zM541 633v1h1v-1zM542 632v1h1v-1zM543 631v1h1v-1zM559 628v1h1v-1zM577 623v1h1v-1zM589 620v1h1v-1zM595 622v1h1v-1zM601 626v1h1v-1zM602 627v1h1v-1zM603 628v1h1v-1zM607 631v1h1v-1zM608 632v1h1v-1zM609 633v1h1v-1zM619 636v1h1v-1zM620 634v2h1v-2zM623 629v2h1v-2zM624 628v1h1v-1zM626 624v1h1v-1zM627 622v2h1v-2zM628 618v1h1v-1zM629 616v2h1v-2zM630 610v3h1v-3zM631 606v1h1v-1zM632 604v2h1v-2zM633 598v3h1v-3zM634 594v1h1v-1zM635 592v2h1v-2zM636 586v3h1v-3zM637 581v2h1v-2zM638 576v1h1v-1zM638 580v1h1v-1zM639 574v2h1v-2zM640 568v3h1v-3zM641 562v3h1v-3zM642 557v2h1v-2zM643 556v1h1v-1zM644 551v2h1v-2zM645 550v1h1v-1zM647 545v2h1v-2zM648 544v1h1v-1zM650 539v2h1v-2zM651 538v1h1v-1zM652 540v1h1v-1zM653 541v2h1v-2zM655 546v1h1v-1zM656 547v2h1v-2zM658 552v1h1v-1zM659 553v2h1v-2zM660 558v3h1v-3zM661 564v2h1v-2zM662 566v1h1v-1zM662 570v1h1v-1zM663 571v2h1v-2zM663 576v1h1v-1zM664 577v2h1v-2zM665 582v3h1v-3zM666 588v3h1v-3zM667 594v3h1v-3zM668 600v1h1v-1zM669 601v2h1v-2zM670 606v3h1v-3zM671 612v1h1v-1zM672 613v2h1v-2zM673 618v3h1v-3zM674 624v1h1v-1zM675 625v2h1v-2zM677 630v1h1v-1zM678 631v2h1v-2zM681 636v2h1v-2zM682 638v1h1v-1zM685 637v2h1v-2zM686 636v1h1v-1zM689 632v1h1v-1zM690 631v1h1v-1zM691 630v1h1v-1zM692 626v1h1v-1zM693 624v2h1v-2zM694 620v1h1v-1zM695 618v2h1v-2zM696 614v1h1v-1zM697 612v2h1v-2zM698 608v1h1v-1zM699 606v2h1v-2zM700 601v2h1v-2zM701 600v1h1v-1zM702 594v3h1v-3zM703 590v1h1v-1zM704 588v2h1v-2zM705 583v2h1v-2zM706 582v1h1v-1zM707 576v3h1v-3zM709 571v2h1v-2zM710 570v1h1v-1zM711 565v2h1v-2zM712 564v1h1v-1zM713 560v1h1v-1zM714 558v2h1v-2zM718 553v1h1v-1zM723 549v1h1v-1zM725 554v3h1v-3zM727 560v3h1v-3zM728 566v1h1v-1zM729 567v2h1v-2zM730 572v1h1v-1zM731 573v2h1v-2zM732 578v2h1v-2zM733 580v1h1v-1zM734 584v3h1v-3zM736 590v3h1v-3zM737 596v1h1v-1zM738 597v2h1v-2zM739 602v2h1v-2zM740 604v1h1v-1zM741 608v2h1v-2zM742 610v1h1v-1zM743 614v1h1v-1zM744 615v2h1v-2zM745 620v1h1v-1zM746 621v2h1v-2zM748 624v1h1v-1zM749 623v1h1v-1zM750 622v1h1v-1zM753 618v1h1v-1zM754 617v1h1v-1zM755 616v1h1v-1zM758 611v2h1v-2zM759 610v1h1v-1zM762 605v2h1v-2zM763 604v1h1v-1zM765 599v2h1v-2zM766 598v1h1v-1zM768 593v2h1v-2zM769 592v1h1v-1zM771 588v1h1v-1zM772 586v2h1v-2zM775 582v1h1v-1zM776 581v1h1v-1zM777 580v1h1v-1zM780 575v2h1v-2zM781 574v1h1v-1zM783 570v1h1v-1zM784 569v1h1v-1zM785 568v1h1v-1zM787 564v1h1v-1zM788 562v2h1v-2zM790 558v1h1v-1zM791 556v2h1v-2zM793 552v1h1v-1zM794 550v2h1v-2zM796 546v1h1v-1zM797 544v2h1v-2zM799 538v3h1v-3zM801 533v2h1v-2zM802 532v1h1v-1zM803 528v1h1v-1zM804 526v2h1v-2zM805 521v2h1v-2zM806 520v1h1v-1zM807 515v2h1v-2zM808 514v1h1v-1zM809 508v3h1v-3zM811 502v3h1v-3zM813 498v1h1v-1zM814 496v2h1v-2zM816 492v1h1v-1zM817 490v2h1v-2zM825 485v1h1v-1zM829 488v2h1v-2zM830 490v1h1v-1zM832 494v2h1v-2zM833 496v1h1v-1zM835 500v3h1v-3zM836 506v1h1v-1zM837 507v2h1v-2zM838 512v3h1v-3zM839 518v1h1v-1zM840 519v2h1v-2zM841 524v3h1v-3zM842 530v1h1v-1zM843 531v2h1v-2zM844 536v3h1v-3zM845 542v3h1v-3zM846 548v3h1v-3zM847 554v3h1v-3zM848 560v3h1v-3zM849 566v3h1v-3zM850 572v3h1v-3zM851 578v2h1v-2zM852 580v1h1v-1zM853 584v3h1v-3zM854 590v3h1v-3zM855 596v2h1v-2zM856 598v1h1v-1zM856 602v1h1v-1zM857 603v2h1v-2zM858 608v3h1v-3zM859 614v1h1v-1zM860 615v2h1v-2zM862 620v1h1v-1zM863 621v2h1v-2zM865 626v1h1v-1zM866 627v2h1v-2zM868 626v1h1v-1zM869 624v2h1v-2zM870 620v1h1v-1zM871 618v2h1v-2zM873 612v3h1v-3zM875 606v3h1v-3zM876 601v2h1v-2zM877 595v2h1v-2zM877 600v1h1v-1zM878 590v1h1v-1zM878 594v1h1v-1zM879 588v2h1v-2zM880 582v3h1v-3zM881 576v3h1v-3zM882 570v3h1v-3zM883 564v3h1v-3zM884 560v1h1v-1zM885 558v2h1v-2zM886 552v3h1v-3zM887 548v1h1v-1zM888 546v2h1v-2zM889 540v3h1v-3zM890 536v1h1v-1zM891 534v2h1v-2zM894 530v1h1v-1zM895 528v2h1v-2zM898 524v1h1v-1zM899 523v1h1v-1zM900 524v1h1v-1zM902 528v1h1v-1zM903 529v1h1v-1zM904 530v1h1v-1zM906 534v1h1v-1zM907 535v2h1v-2zM909 540v3h1v-3zM911 546v2h1v-2zM912 548v1h1v-1zM913 552v2h1v-2zM914 554v1h1v-1zM915 558v2h1v-2zM916 560v1h1v-1zM917 564v1h1v-1zM918 565v2h1v-2zM920 570v2h1v-2zM921 572v1h1v-1zM922 576v1h1v-1zM923 577v2h1v-2zM926 582v1h1v-1zM927 583v1h1v-1zM928 584v1h1v-1zM931 587v2h1v-2zM932 586v1h1v-1zM934 581v2h1v-2zM935 580v1h1v-1zM937 575v2h1v-2zM938 574v1h1v-1zM939 570v1h1v-1zM940 568v2h1v-2zM941 564v1h1v-1zM942 562v2h1v-2zM943 557v2h1v-2zM944 556v1h1v-1zM945 551v2h1v-2zM946 550v1h1v-1zM947 545v2h1v-2zM948 544v1h1v-1zM949 538v3h1v-3zM950 534v1h1v-1zM951 532v2h1v-2zM952 527v2h1v-2zM953 526v1h1v-1zM954 520v3h1v-3zM956 515v2h1v-2zM957 514v1h1v-1zM958 510v1h1v-1zM959 508v2h1v-2zM961 503v2h1v-2zM962 502v1h1v-1zM964 497v2h1v-2zM965 496v1h1v-1zM968 491v2h1v-2zM969 490v1h1v-1zM972 486v1h1v-1zM973 485v1h1v-1zM974 484v1h1v-1zM978 480v1h1v-1zM979 479v1h1v-1zM980 480v1h1v-1zM983 484v1h1v-1zM984 485v1h1v-1zM985 486v1h1v-1zM988 490v2h1v-2zM989 492v1h1v-1zM991 496v2h1v-2zM992 498v1h1v-1zM994 502v2h1v-2zM995 504v1h1v-1zM996 508v3h1v-3zM997 514v1h1v-1zM998 515v2h1v-2zM999 520v3h1v-3zM1000 526v2h1v-2zM1001 528v1h1v-1zM1002 532v3h1v-3zM1003 538v2h1v-2zM1004 540v1h1v-1zM1005 544v3h1v-3zM1007 550v3h1v-3zM1008 556v1h1v-1zM1009 557v2h1v-2zM1010 562v2h1v-2zM1011 564v1h1v-1zM1012 568v3h1v-3zM1013 574v3h1v-3zM1014 580v3h1v-3zM1015 586v2h1v-2zM1016 588v1h1v-1zM1016 592v1h1v-1zM1017 593v2h1v-2zM1018 598v3h1v-3zM1019 604v3h1v-3zM1021 610v3h1v-3zM1023 616v3h1v-3zM1025 622v3h1v-3zM1027 628v3h1v-3zM1029 634v2h1v-2zM1030 636v1h1v-1zM1031 640v1h1v-1zM1032 641v2h1v-2zM1033 646v1h1v-1zM1034 647v2h1v-2zM1043 647v1h1v-1zM1044 646v1h1v-1zM1045 645v1h1v-1zM1049 642v1h1v-1zM1050 641v1h1v-1zM1051 640v1h1v-1zM1053 636v1h1v-1zM1054 634v2h1v-2zM1056 630v1h1v-1zM1057 628v2h1v-2zM1060 624v1h1v-1zM1061 623v1h1v-1zM1062 622v1h1v-1zM1066 618v1h1v-1zM1067 617v1h1v-1zM1068 616v1h1v-1zM1072 613v1h1v-1zM1073 612v1h1v-1zM1074 611v1h1v-1zM1080 614v1h1v-1zM1104 614v1h1v-1zM1108 610v1h1v-1zM1109 609v1h1v-1zM1110 608v1h1v-1zM1114 604v1h1v-1zM1115 603v1h1v-1zM1116 602v1h1v-1zM1119 597v2h1v-2zM1120 596v1h1v-1zM1123 591v2h1v-2zM1124 590v1h1v-1zM1125 585v2h1v-2zM1126 584v1h1v-1zM1127 580v1h1v-1zM1128 578v2h1v-2zM1129 574v1h1v-1zM1130 572v2h1v-2zM1131 568v1h1v-1zM1132 566v2h1v-2zM1133 562v1h1v-1zM1134 560v2h1v-2zM1136 554v3h1v-3zM1138 548v3h1v-3zM1140 542v3h1v-3zM1141 537v2h1v-2zM1142 536v1h1v-1zM1143 530v3h1v-3zM1145 524v3h1v-3zM1146 519v2h1v-2zM1147 518v1h1v-1zM1148 514v1h1v-1zM1149 512v2h1v-2zM1151 508v1h1v-1zM1152 506v2h1v-2zM1154 502v1h1v-1zM1155 501v1h1v-1zM1156 500v1h1v-1zM1162 496v1h1v-1zM1165 498v2h1v-2zM1166 500v1h1v-1zM1168 504v2h1v-2zM1169 506v1h1v-1zM1171 510v2h1v-2zM1172 512v1h1v-1zM1173 516v2h1v-2zM1174 518v1h1v-1zM1175 522v2h1v-2zM1176 524v1h1v-1zM1177 528v2h1v-2zM1178 530v1h1v-1zM1179 534v3h1v-3zM1180 540v1h1v-1zM1181 541v2h1v-2zM1182 546v3h1v-3zM1183 552v3h1v-3zM1184 558v1h1v-1zM1185 559v2h1v-2zM1186 564v3h1v-3zM1187 570v2h1v-2zM1188 572v1h1v-1zM1189 576v3h1v-3zM1191 582v3h1v-3zM1193 588v3h1v-3zM1194 594v1h1v-1zM1195 595v2h1v-2zM1196 600v1h1v-1zM1197 601v2h1v-2zM1199 606v3h1v-3zM1201 612v2h1v-2zM1202 614v1h1v-1zM1203 618v1h1v-1z" fill="#ff0000"/>
</g>
<defs><linearGradient id="wm" gradientUnits="userSpaceOnUse" x1="0" y1="33" x2="0" y2="640"><stop offset="0" stop-color="rgb(32,95,158)"/><stop offset="0.5" stop-color="rgb(21,72,141)"/><stop offset="1" stop-color="rgb(4,55,129)"/></linearGradient></defs>
<path fill-opacity="0.175" d="M485,33 H977 A115.7,116 0 0 1 1092.7,149 V281 A115.7,116.5 0 0 1 977,397.5 H728 V276 H971 V154.5 H607 V640.6 H485 Z M728,519 H971.5 L1032.2,640.6 H728 Z" fill="url(#wm)"/>
<g shape-rendering="crispEdges">
<rect x="2" y="2" width="1531" height="1" fill="#000"/>
<rect x="2" y="2" width="1" height="676" fill="#000"/>
<rect x="1532" y="2" width="1" height="676" fill="#000"/>
<rect x="2" y="451" width="1531" height="1" fill="#000"/>
<rect x="2" y="452" width="1531" height="1" fill="#fff"/>
<rect x="2" y="453" width="1531" height="1" fill="#000"/>
<rect x="2" y="677" width="1531" height="1" fill="#000"/>
<rect x="1533" y="19" width="2" height="1" fill="#000"/>
<rect x="1533" y="52" width="2" height="1" fill="#000"/>
<rect x="1533" y="85" width="2" height="1" fill="#000"/>
<rect x="1533" y="118" width="2" height="1" fill="#000"/>
<rect x="1533" y="151" width="2" height="1" fill="#000"/>
<rect x="1533" y="184" width="2" height="1" fill="#000"/>
<rect x="1533" y="217" width="2" height="1" fill="#000"/>
<rect x="1533" y="250" width="2" height="1" fill="#000"/>
<rect x="1533" y="283" width="2" height="1" fill="#000"/>
<rect x="1533" y="316" width="2" height="1" fill="#000"/>
<rect x="1533" y="349" width="2" height="1" fill="#000"/>
<rect x="1533" y="382" width="2" height="1" fill="#000"/>
<rect x="1533" y="415" width="2" height="1" fill="#000"/>
<rect x="1533" y="448" width="2" height="1" fill="#000"/>
<rect x="1533" y="455" width="1" height="1" fill="#000"/>
<rect x="1533" y="676" width="1" height="1" fill="#000"/>
<rect x="3" y="678" width="1" height="3" fill="#000"/>
<rect x="67" y="678" width="1" height="3" fill="#000"/>
<rect x="131" y="678" width="1" height="3" fill="#000"/>
<rect x="195" y="678" width="1" height="3" fill="#000"/>
<rect x="259" y="678" width="1" height="3" fill="#000"/>
<rect x="323" y="678" width="1" height="3" fill="#000"/>
<rect x="387" y="678" width="1" height="3" fill="#000"/>
<rect x="451" y="678" width="1" height="3" fill="#000"/>
<rect x="515" y="678" width="1" height="3" fill="#000"/>
<rect x="579" y="678" width="1" height="3" fill="#000"/>
<rect x="643" y="678" width="1" height="3" fill="#000"/>
<rect x="707" y="678" width="1" height="3" fill="#000"/>
<rect x="771" y="678" width="1" height="3" fill="#000"/>
<rect x="835" y="678" width="1" height="3" fill="#000"/>
<rect x="899" y="678" width="1" height="3" fill="#000"/>
<rect x="963" y="678" width="1" height="3" fill="#000"/>
<rect x="1027" y="678" width="1" height="3" fill="#000"/>
<rect x="1091" y="678" width="1" height="3" fill="#000"/>
<rect x="1155" y="678" width="1" height="3" fill="#000"/>
</g>
<text x="1537.90" y="23" font-size="10" fill="#000" stroke="#000" stroke-width="0.18" textLength="33.30" lengthAdjust="spacingAndGlyphs">3548.50</text>
<text x="1537.90" y="56" font-size="10" fill="#000" stroke="#000" stroke-width="0.18" textLength="33.30" lengthAdjust="spacingAndGlyphs">3522.25</text>
<text x="1537.90" y="89" font-size="10" fill="#000" stroke="#000" stroke-width="0.18" textLength="33.30" lengthAdjust="spacingAndGlyphs">3496.00</text>
<text x="1537.90" y="122" font-size="10" fill="#000" stroke="#000" stroke-width="0.18" textLength="33.30" lengthAdjust="spacingAndGlyphs">3469.75</text>
<text x="1537.90" y="155" font-size="10" fill="#000" stroke="#000" stroke-width="0.18" textLength="33.30" lengthAdjust="spacingAndGlyphs">3443.50</text>
<text x="1537.90" y="188" font-size="10" fill="#000" stroke="#000" stroke-width="0.18" textLength="33.30" lengthAdjust="spacingAndGlyphs">3417.25</text>
<text x="1537.90" y="221" font-size="10" fill="#000" stroke="#000" stroke-width="0.18" textLength="33.30" lengthAdjust="spacingAndGlyphs">3391.00</text>
<text x="1537.90" y="254" font-size="10" fill="#000" stroke="#000" stroke-width="0.18" textLength="33.30" lengthAdjust="spacingAndGlyphs">3364.75</text>
<text x="1537.90" y="287" font-size="10" fill="#000" stroke="#000" stroke-width="0.18" textLength="33.30" lengthAdjust="spacingAndGlyphs">3338.50</text>
<text x="1537.90" y="320" font-size="10" fill="#000" stroke="#000" stroke-width="0.18" textLength="33.30" lengthAdjust="spacingAndGlyphs">3312.25</text>
<text x="1537.90" y="353" font-size="10" fill="#000" stroke="#000" stroke-width="0.18" textLength="33.30" lengthAdjust="spacingAndGlyphs">3286.00</text>
<text x="1537.90" y="386" font-size="10" fill="#000" stroke="#000" stroke-width="0.18" textLength="33.30" lengthAdjust="spacingAndGlyphs">3259.75</text>
<text x="1537.90" y="419" font-size="10" fill="#000" stroke="#000" stroke-width="0.18" textLength="33.30" lengthAdjust="spacingAndGlyphs">3233.50</text>
<text x="1537.90" y="452" font-size="10" fill="#000" stroke="#000" stroke-width="0.18" textLength="33.30" lengthAdjust="spacingAndGlyphs">3207.25</text>
<text x="1536.80" y="464" font-size="10" fill="#000" stroke="#000" stroke-width="0.18" textLength="14.20" lengthAdjust="spacingAndGlyphs">100</text>
<text x="1535.20" y="503" font-size="10" fill="#000" stroke="#000" stroke-width="0.18" textLength="10.10" lengthAdjust="spacingAndGlyphs">80</text>
<text x="1535.20" y="636" font-size="10" fill="#000" stroke="#000" stroke-width="0.18" textLength="10.10" lengthAdjust="spacingAndGlyphs">20</text>
<text x="1536.00" y="674" font-size="10" fill="#000" stroke="#000" stroke-width="0.18" textLength="5.00" lengthAdjust="spacingAndGlyphs">0</text>
<rect x="1534" y="244" width="41" height="11" fill="#ff0000" shape-rendering="crispEdges"/>
<text x="1538.10" y="253" font-size="10" fill="#fff" stroke="#fff" stroke-width="0.1" textLength="32.50" lengthAdjust="spacingAndGlyphs">3364.51</text>
<rect x="1534" y="325" width="41" height="11" fill="#ff0000" shape-rendering="crispEdges"/>
<text x="1538.10" y="334" font-size="10" fill="#fff" stroke="#fff" stroke-width="0.1" textLength="32.50" lengthAdjust="spacingAndGlyphs">3300.33</text>
<rect x="1534" y="411" width="41" height="11" fill="#ff0000" shape-rendering="crispEdges"/>
<text x="1538.10" y="420" font-size="10" fill="#fff" stroke="#fff" stroke-width="0.1" textLength="32.50" lengthAdjust="spacingAndGlyphs">3231.33</text>
<rect x="1534" y="559" width="41" height="11" fill="#ff0000" shape-rendering="crispEdges"/>
<text x="1538.10" y="568" font-size="10" fill="#fff" stroke="#fff" stroke-width="0.1" textLength="32.50" lengthAdjust="spacingAndGlyphs">50.0000</text>
<rect x="1532" y="342" width="2" height="1" fill="#fff" shape-rendering="crispEdges"/>
<rect x="1534" y="337" width="41" height="11" fill="#000" shape-rendering="crispEdges"/>
<text x="1538.10" y="346" font-size="10" fill="#fff" stroke="#fff" stroke-width="0.1" textLength="32.50" lengthAdjust="spacingAndGlyphs">3291.71</text>
<path d="M6,9 H13 L9.5,13 Z" fill="#000"/>
<text x="17.90" y="14" font-size="10" fill="#000" stroke="#000" stroke-width="0.18" textLength="53.70" lengthAdjust="spacingAndGlyphs">XAUUSD,H1</text>
<text x="78.10" y="14" font-size="10" fill="#000" stroke="#000" stroke-width="0.18" textLength="32.20" lengthAdjust="spacingAndGlyphs">3290.85</text>
<text x="114.30" y="14" font-size="10" fill="#000" stroke="#000" stroke-width="0.18" textLength="32.60" lengthAdjust="spacingAndGlyphs">3294.19</text>
<text x="150.10" y="14" font-size="10" fill="#000" stroke="#000" stroke-width="0.18" textLength="32.20" lengthAdjust="spacingAndGlyphs">3288.66</text>
<text x="185.90" y="14" font-size="10" fill="#000" stroke="#000" stroke-width="0.18" textLength="32.60" lengthAdjust="spacingAndGlyphs">3291.71</text>
<text x="7.10" y="466" font-size="10" fill="#000" stroke="#000" stroke-width="0.18" textLength="49.80" lengthAdjust="spacingAndGlyphs">Stoch(5,3,3)</text>
<text x="60.20" y="466" font-size="10" fill="#000" stroke="#000" stroke-width="0.18" textLength="32.20" lengthAdjust="spacingAndGlyphs">36.6078</text>
<text x="97.10" y="466" font-size="10" fill="#000" stroke="#000" stroke-width="0.18" textLength="31.40" lengthAdjust="spacingAndGlyphs">28.2457</text>
<text x="2.50" y="690" font-size="10" fill="#000" stroke="#000" stroke-width="0.18" textLength="50.60" lengthAdjust="spacingAndGlyphs">16 Apr 2025</text>
<text x="66.50" y="690" font-size="10" fill="#000" stroke="#000" stroke-width="0.18" textLength="53.20" lengthAdjust="spacingAndGlyphs">17 Apr 02:00</text>
<text x="130.50" y="690" font-size="10" fill="#000" stroke="#000" stroke-width="0.18" textLength="53.20" lengthAdjust="spacingAndGlyphs">17 Apr 10:00</text>
<text x="194.50" y="690" font-size="10" fill="#000" stroke="#000" stroke-width="0.18" textLength="53.20" lengthAdjust="spacingAndGlyphs">17 Apr 18:00</text>
<text x="258.50" y="690" font-size="10" fill="#000" stroke="#000" stroke-width="0.18" textLength="53.20" lengthAdjust="spacingAndGlyphs">21 Apr 03:00</text>
<text x="322.50" y="690" font-size="10" fill="#000" stroke="#000" stroke-width="0.18" textLength="52.51" lengthAdjust="spacingAndGlyphs">21 Apr 11:00</text>
<text x="386.50" y="690" font-size="10" fill="#000" stroke="#000" stroke-width="0.18" textLength="53.20" lengthAdjust="spacingAndGlyphs">21 Apr 19:00</text>
<text x="450.50" y="690" font-size="10" fill="#000" stroke="#000" stroke-width="0.18" textLength="53.20" lengthAdjust="spacingAndGlyphs">22 Apr 04:00</text>
<text x="514.50" y="690" font-size="10" fill="#000" stroke="#000" stroke-width="0.18" textLength="53.20" lengthAdjust="spacingAndGlyphs">22 Apr 12:00</text>
<text x="578.50" y="690" font-size="10" fill="#000" stroke="#000" stroke-width="0.18" textLength="53.20" lengthAdjust="spacingAndGlyphs">22 Apr 20:00</text>
<text x="642.50" y="690" font-size="10" fill="#000" stroke="#000" stroke-width="0.18" textLength="53.20" lengthAdjust="spacingAndGlyphs">23 Apr 05:00</text>
<text x="706.50" y="690" font-size="10" fill="#000" stroke="#000" stroke-width="0.18" textLength="53.20" lengthAdjust="spacingAndGlyphs">23 Apr 13:00</text>
<text x="770.50" y="690" font-size="10" fill="#000" stroke="#000" stroke-width="0.18" textLength="53.20" lengthAdjust="spacingAndGlyphs">23 Apr 21:00</text>
<text x="834.50" y="690" font-size="10" fill="#000" stroke="#000" stroke-width="0.18" textLength="53.20" lengthAdjust="spacingAndGlyphs">24 Apr 06:00</text>
<text x="898.50" y="690" font-size="10" fill="#000" stroke="#000" stroke-width="0.18" textLength="53.20" lengthAdjust="spacingAndGlyphs">24 Apr 14:00</text>
<text x="962.50" y="690" font-size="10" fill="#000" stroke="#000" stroke-width="0.18" textLength="53.20" lengthAdjust="spacingAndGlyphs">24 Apr 22:00</text>
<text x="1026.50" y="690" font-size="10" fill="#000" stroke="#000" stroke-width="0.18" textLength="53.20" lengthAdjust="spacingAndGlyphs">25 Apr 07:00</text>
<text x="1090.50" y="690" font-size="10" fill="#000" stroke="#000" stroke-width="0.18" textLength="53.20" lengthAdjust="spacingAndGlyphs">25 Apr 15:00</text>
<text x="1154.50" y="690" font-size="10" fill="#000" stroke="#000" stroke-width="0.18" textLength="53.20" lengthAdjust="spacingAndGlyphs">25 Apr 23:00</text>
</svg>
</body></html>
